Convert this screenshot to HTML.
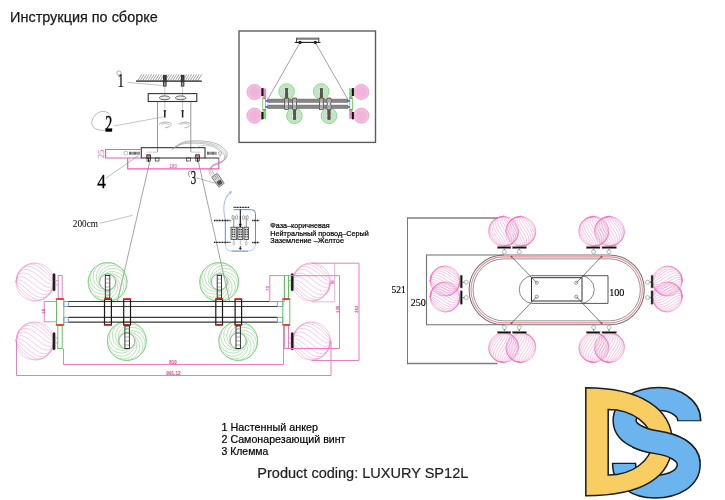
<!DOCTYPE html>
<html><head><meta charset="utf-8"><title>Инструкция по сборке</title>
<style>
html,body{margin:0;padding:0;background:#fff;}
body{width:725px;height:500px;overflow:hidden;font-family:"Liberation Sans",sans-serif;}
svg{display:block;}
</style></head><body>
<svg width="725" height="500" viewBox="0 0 725 500">
<defs><filter id="gs" x="-5%" y="-20%" width="110%" height="140%" color-interpolation-filters="sRGB"><feColorMatrix type="saturate" values="0"/></filter></defs>
<rect width="725" height="500" fill="#fff"/>
<text x="10.1" y="22.4" font-family="Liberation Sans, sans-serif" font-size="14.5" fill="#1a1a1a" textLength="147.6" lengthAdjust="spacingAndGlyphs" stroke="#1a1a1a" stroke-width="0.25" filter="url(#gs)">Инструкция по сборке</text>
<text x="221.5" y="430.7" font-family="Liberation Sans, sans-serif" font-size="10.6" fill="#000" textLength="96.5" lengthAdjust="spacingAndGlyphs" stroke="#000" stroke-width="0.2" filter="url(#gs)">1 Настенный анкер</text>
<text x="221.5" y="443" font-family="Liberation Sans, sans-serif" font-size="10.6" fill="#000" textLength="124" lengthAdjust="spacingAndGlyphs" stroke="#000" stroke-width="0.2" filter="url(#gs)">2 Самонарезающий винт</text>
<text x="221.5" y="455" font-family="Liberation Sans, sans-serif" font-size="10.6" fill="#000" textLength="46.8" lengthAdjust="spacingAndGlyphs" stroke="#000" stroke-width="0.2" filter="url(#gs)">3 Клемма</text>
<text x="257.3" y="478.2" font-family="Liberation Sans, sans-serif" font-size="14.5" fill="#222" textLength="211" lengthAdjust="spacingAndGlyphs" stroke="#222" stroke-width="0.2" filter="url(#gs)">Product coding: LUXURY SP12L</text>
<text x="270.3" y="227.8" font-family="Liberation Sans, sans-serif" font-size="7.6" fill="#000" textLength="59.3" lengthAdjust="spacingAndGlyphs" stroke="#000" stroke-width="0.22" filter="url(#gs)">Фаза–коричневая</text>
<text x="270.3" y="235.5" font-family="Liberation Sans, sans-serif" font-size="7.6" fill="#000" textLength="98.5" lengthAdjust="spacingAndGlyphs" stroke="#000" stroke-width="0.22" filter="url(#gs)">Нейтральный провод–Серый</text>
<text x="270.3" y="243.3" font-family="Liberation Sans, sans-serif" font-size="7.6" fill="#000" textLength="73.7" lengthAdjust="spacingAndGlyphs" stroke="#000" stroke-width="0.22" filter="url(#gs)">Заземление –Желтое</text>
<line x1="150.6" y1="158" x2="117.5" y2="301" stroke="#666" stroke-width="0.6" />
<line x1="197.6" y1="158" x2="229.5" y2="301" stroke="#666" stroke-width="0.6" />
<g stroke="#ec94cc" stroke-width="0.5" fill="none" opacity="1"><circle cx="35" cy="282" r="19"/><path d="M16 282 L17.58 275.63 L19.17 272.83 L20.75 270.65 L22.33 268.83 L23.92 267.3 L25.5 266.03 L27.08 265 L28.67 264.19 L30.25 263.62 L31.83 263.27 L33.42 263.14 L35 263.23 L36.58 263.54 L38.17 264.05 L39.75 264.76 L41.33 265.67 L42.92 266.76 L44.5 268.03 L46.08 269.47 L47.67 271.08 L49.25 272.87 L50.83 274.86 L52.42 277.22 L54 282 M16 282 L17.58 274.67 L19.17 271.7 L20.75 269.54 L22.33 267.87 L23.92 266.57 L25.5 265.59 L27.08 264.89 L28.67 264.46 L30.25 264.28 L31.83 264.33 L33.42 264.59 L35 265.07 L36.58 265.74 L38.17 266.59 L39.75 267.59 L41.33 268.75 L42.92 270.02 L44.5 271.41 L46.08 272.87 L47.67 274.4 L49.25 275.98 L50.83 277.59 L52.42 279.28 L54 282 M16 282 L17.58 274.42 L19.17 271.57 L20.75 269.65 L22.33 268.29 L23.92 267.34 L25.5 266.75 L27.08 266.46 L28.67 266.44 L30.25 266.67 L31.83 267.11 L33.42 267.75 L35 268.56 L36.58 269.53 L38.17 270.63 L39.75 271.84 L41.33 273.12 L42.92 274.46 L44.5 275.81 L46.08 277.16 L47.67 278.47 L49.25 279.68 L50.83 280.76 L52.42 281.6 L54 282 M16 282 L17.58 274.91 L19.17 272.47 L20.75 270.97 L22.33 270.05 L23.92 269.56 L25.5 269.41 L27.08 269.55 L28.67 269.95 L30.25 270.56 L31.83 271.35 L33.42 272.3 L35 273.37 L36.58 274.55 L38.17 275.79 L39.75 277.07 L41.33 278.36 L42.92 279.63 L44.5 280.83 L46.08 281.93 L47.67 282.88 L49.25 283.61 L50.83 284.04 L52.42 283.97 L54 282 M16 282 L17.58 276.1 L19.17 274.29 L20.75 273.37 L22.33 272.98 L23.92 272.99 L25.5 273.3 L27.08 273.86 L28.67 274.63 L30.25 275.57 L31.83 276.64 L33.42 277.8 L35 279.03 L36.58 280.29 L38.17 281.56 L39.75 282.79 L41.33 283.96 L42.92 285.03 L44.5 285.96 L46.08 286.7 L47.67 287.2 L49.25 287.39 L50.83 287.12 L52.42 286.14 L54 282 M16 282 L17.58 277.86 L19.17 276.88 L20.75 276.61 L22.33 276.8 L23.92 277.3 L25.5 278.04 L27.08 278.97 L28.67 280.04 L30.25 281.21 L31.83 282.44 L33.42 283.71 L35 284.97 L36.58 286.2 L38.17 287.36 L39.75 288.43 L41.33 289.37 L42.92 290.14 L44.5 290.7 L46.08 291.01 L47.67 291.02 L49.25 290.63 L50.83 289.71 L52.42 287.9 L54 282 M16 282 L17.58 280.03 L19.17 279.96 L20.75 280.39 L22.33 281.12 L23.92 282.07 L25.5 283.17 L27.08 284.37 L28.67 285.64 L30.25 286.93 L31.83 288.21 L33.42 289.45 L35 290.63 L36.58 291.7 L38.17 292.65 L39.75 293.44 L41.33 294.05 L42.92 294.45 L44.5 294.59 L46.08 294.44 L47.67 293.95 L49.25 293.03 L50.83 291.53 L52.42 289.09 L54 282 M16 282 L17.58 282.4 L19.17 283.24 L20.75 284.32 L22.33 285.53 L23.92 286.84 L25.5 288.19 L27.08 289.54 L28.67 290.88 L30.25 292.16 L31.83 293.37 L33.42 294.47 L35 295.44 L36.58 296.25 L38.17 296.89 L39.75 297.33 L41.33 297.56 L42.92 297.54 L44.5 297.25 L46.08 296.66 L47.67 295.71 L49.25 294.35 L50.83 292.43 L52.42 289.58 L54 282 M16 282 L17.58 284.72 L19.17 286.41 L20.75 288.02 L22.33 289.6 L23.92 291.13 L25.5 292.59 L27.08 293.98 L28.67 295.25 L30.25 296.41 L31.83 297.41 L33.42 298.26 L35 298.93 L36.58 299.41 L38.17 299.67 L39.75 299.72 L41.33 299.54 L42.92 299.11 L44.5 298.41 L46.08 297.43 L47.67 296.13 L49.25 294.46 L50.83 292.3 L52.42 289.33 L54 282 M16 282 L17.58 286.78 L19.17 289.14 L20.75 291.13 L22.33 292.92 L23.92 294.53 L25.5 295.97 L27.08 297.24 L28.67 298.33 L30.25 299.24 L31.83 299.95 L33.42 300.46 L35 300.77 L36.58 300.86 L38.17 300.73 L39.75 300.38 L41.33 299.81 L42.92 299 L44.5 297.97 L46.08 296.7 L47.67 295.17 L49.25 293.35 L50.83 291.17 L52.42 288.37 L54 282"/></g>
<g stroke="#ec94cc" stroke-width="0.5" fill="none" opacity="1"><circle cx="35" cy="341" r="19"/><path d="M16 341 L17.58 334.63 L19.17 331.83 L20.75 329.65 L22.33 327.83 L23.92 326.3 L25.5 325.03 L27.08 324 L28.67 323.19 L30.25 322.62 L31.83 322.27 L33.42 322.14 L35 322.23 L36.58 322.54 L38.17 323.05 L39.75 323.76 L41.33 324.67 L42.92 325.76 L44.5 327.03 L46.08 328.47 L47.67 330.08 L49.25 331.87 L50.83 333.86 L52.42 336.22 L54 341 M16 341 L17.58 333.67 L19.17 330.7 L20.75 328.54 L22.33 326.87 L23.92 325.57 L25.5 324.59 L27.08 323.89 L28.67 323.46 L30.25 323.28 L31.83 323.33 L33.42 323.59 L35 324.07 L36.58 324.74 L38.17 325.59 L39.75 326.59 L41.33 327.75 L42.92 329.02 L44.5 330.41 L46.08 331.87 L47.67 333.4 L49.25 334.98 L50.83 336.59 L52.42 338.28 L54 341 M16 341 L17.58 333.42 L19.17 330.57 L20.75 328.65 L22.33 327.29 L23.92 326.34 L25.5 325.75 L27.08 325.46 L28.67 325.44 L30.25 325.67 L31.83 326.11 L33.42 326.75 L35 327.56 L36.58 328.53 L38.17 329.63 L39.75 330.84 L41.33 332.12 L42.92 333.46 L44.5 334.81 L46.08 336.16 L47.67 337.47 L49.25 338.68 L50.83 339.76 L52.42 340.6 L54 341 M16 341 L17.58 333.91 L19.17 331.47 L20.75 329.97 L22.33 329.05 L23.92 328.56 L25.5 328.41 L27.08 328.55 L28.67 328.95 L30.25 329.56 L31.83 330.35 L33.42 331.3 L35 332.37 L36.58 333.55 L38.17 334.79 L39.75 336.07 L41.33 337.36 L42.92 338.63 L44.5 339.83 L46.08 340.93 L47.67 341.88 L49.25 342.61 L50.83 343.04 L52.42 342.97 L54 341 M16 341 L17.58 335.1 L19.17 333.29 L20.75 332.37 L22.33 331.98 L23.92 331.99 L25.5 332.3 L27.08 332.86 L28.67 333.63 L30.25 334.57 L31.83 335.64 L33.42 336.8 L35 338.03 L36.58 339.29 L38.17 340.56 L39.75 341.79 L41.33 342.96 L42.92 344.03 L44.5 344.96 L46.08 345.7 L47.67 346.2 L49.25 346.39 L50.83 346.12 L52.42 345.14 L54 341 M16 341 L17.58 336.86 L19.17 335.88 L20.75 335.61 L22.33 335.8 L23.92 336.3 L25.5 337.04 L27.08 337.97 L28.67 339.04 L30.25 340.21 L31.83 341.44 L33.42 342.71 L35 343.97 L36.58 345.2 L38.17 346.36 L39.75 347.43 L41.33 348.37 L42.92 349.14 L44.5 349.7 L46.08 350.01 L47.67 350.02 L49.25 349.63 L50.83 348.71 L52.42 346.9 L54 341 M16 341 L17.58 339.03 L19.17 338.96 L20.75 339.39 L22.33 340.12 L23.92 341.07 L25.5 342.17 L27.08 343.37 L28.67 344.64 L30.25 345.93 L31.83 347.21 L33.42 348.45 L35 349.63 L36.58 350.7 L38.17 351.65 L39.75 352.44 L41.33 353.05 L42.92 353.45 L44.5 353.59 L46.08 353.44 L47.67 352.95 L49.25 352.03 L50.83 350.53 L52.42 348.09 L54 341 M16 341 L17.58 341.4 L19.17 342.24 L20.75 343.32 L22.33 344.53 L23.92 345.84 L25.5 347.19 L27.08 348.54 L28.67 349.88 L30.25 351.16 L31.83 352.37 L33.42 353.47 L35 354.44 L36.58 355.25 L38.17 355.89 L39.75 356.33 L41.33 356.56 L42.92 356.54 L44.5 356.25 L46.08 355.66 L47.67 354.71 L49.25 353.35 L50.83 351.43 L52.42 348.58 L54 341 M16 341 L17.58 343.72 L19.17 345.41 L20.75 347.02 L22.33 348.6 L23.92 350.13 L25.5 351.59 L27.08 352.98 L28.67 354.25 L30.25 355.41 L31.83 356.41 L33.42 357.26 L35 357.93 L36.58 358.41 L38.17 358.67 L39.75 358.72 L41.33 358.54 L42.92 358.11 L44.5 357.41 L46.08 356.43 L47.67 355.13 L49.25 353.46 L50.83 351.3 L52.42 348.33 L54 341 M16 341 L17.58 345.78 L19.17 348.14 L20.75 350.13 L22.33 351.92 L23.92 353.53 L25.5 354.97 L27.08 356.24 L28.67 357.33 L30.25 358.24 L31.83 358.95 L33.42 359.46 L35 359.77 L36.58 359.86 L38.17 359.73 L39.75 359.38 L41.33 358.81 L42.92 358 L44.5 356.97 L46.08 355.7 L47.67 354.17 L49.25 352.35 L50.83 350.17 L52.42 347.37 L54 341"/></g>
<g stroke="#ec94cc" stroke-width="0.5" fill="none" opacity="1"><circle cx="311.5" cy="282" r="19"/><path d="M292.5 282 L294.08 275.63 L295.67 272.83 L297.25 270.65 L298.83 268.83 L300.42 267.3 L302 266.03 L303.58 265 L305.17 264.19 L306.75 263.62 L308.33 263.27 L309.92 263.14 L311.5 263.23 L313.08 263.54 L314.67 264.05 L316.25 264.76 L317.83 265.67 L319.42 266.76 L321 268.03 L322.58 269.47 L324.17 271.08 L325.75 272.87 L327.33 274.86 L328.92 277.22 L330.5 282 M292.5 282 L294.08 274.67 L295.67 271.7 L297.25 269.54 L298.83 267.87 L300.42 266.57 L302 265.59 L303.58 264.89 L305.17 264.46 L306.75 264.28 L308.33 264.33 L309.92 264.59 L311.5 265.07 L313.08 265.74 L314.67 266.59 L316.25 267.59 L317.83 268.75 L319.42 270.02 L321 271.41 L322.58 272.87 L324.17 274.4 L325.75 275.98 L327.33 277.59 L328.92 279.28 L330.5 282 M292.5 282 L294.08 274.42 L295.67 271.57 L297.25 269.65 L298.83 268.29 L300.42 267.34 L302 266.75 L303.58 266.46 L305.17 266.44 L306.75 266.67 L308.33 267.11 L309.92 267.75 L311.5 268.56 L313.08 269.53 L314.67 270.63 L316.25 271.84 L317.83 273.12 L319.42 274.46 L321 275.81 L322.58 277.16 L324.17 278.47 L325.75 279.68 L327.33 280.76 L328.92 281.6 L330.5 282 M292.5 282 L294.08 274.91 L295.67 272.47 L297.25 270.97 L298.83 270.05 L300.42 269.56 L302 269.41 L303.58 269.55 L305.17 269.95 L306.75 270.56 L308.33 271.35 L309.92 272.3 L311.5 273.37 L313.08 274.55 L314.67 275.79 L316.25 277.07 L317.83 278.36 L319.42 279.63 L321 280.83 L322.58 281.93 L324.17 282.88 L325.75 283.61 L327.33 284.04 L328.92 283.97 L330.5 282 M292.5 282 L294.08 276.1 L295.67 274.29 L297.25 273.37 L298.83 272.98 L300.42 272.99 L302 273.3 L303.58 273.86 L305.17 274.63 L306.75 275.57 L308.33 276.64 L309.92 277.8 L311.5 279.03 L313.08 280.29 L314.67 281.56 L316.25 282.79 L317.83 283.96 L319.42 285.03 L321 285.96 L322.58 286.7 L324.17 287.2 L325.75 287.39 L327.33 287.12 L328.92 286.14 L330.5 282 M292.5 282 L294.08 277.86 L295.67 276.88 L297.25 276.61 L298.83 276.8 L300.42 277.3 L302 278.04 L303.58 278.97 L305.17 280.04 L306.75 281.21 L308.33 282.44 L309.92 283.71 L311.5 284.97 L313.08 286.2 L314.67 287.36 L316.25 288.43 L317.83 289.37 L319.42 290.14 L321 290.7 L322.58 291.01 L324.17 291.02 L325.75 290.63 L327.33 289.71 L328.92 287.9 L330.5 282 M292.5 282 L294.08 280.03 L295.67 279.96 L297.25 280.39 L298.83 281.12 L300.42 282.07 L302 283.17 L303.58 284.37 L305.17 285.64 L306.75 286.93 L308.33 288.21 L309.92 289.45 L311.5 290.63 L313.08 291.7 L314.67 292.65 L316.25 293.44 L317.83 294.05 L319.42 294.45 L321 294.59 L322.58 294.44 L324.17 293.95 L325.75 293.03 L327.33 291.53 L328.92 289.09 L330.5 282 M292.5 282 L294.08 282.4 L295.67 283.24 L297.25 284.32 L298.83 285.53 L300.42 286.84 L302 288.19 L303.58 289.54 L305.17 290.88 L306.75 292.16 L308.33 293.37 L309.92 294.47 L311.5 295.44 L313.08 296.25 L314.67 296.89 L316.25 297.33 L317.83 297.56 L319.42 297.54 L321 297.25 L322.58 296.66 L324.17 295.71 L325.75 294.35 L327.33 292.43 L328.92 289.58 L330.5 282 M292.5 282 L294.08 284.72 L295.67 286.41 L297.25 288.02 L298.83 289.6 L300.42 291.13 L302 292.59 L303.58 293.98 L305.17 295.25 L306.75 296.41 L308.33 297.41 L309.92 298.26 L311.5 298.93 L313.08 299.41 L314.67 299.67 L316.25 299.72 L317.83 299.54 L319.42 299.11 L321 298.41 L322.58 297.43 L324.17 296.13 L325.75 294.46 L327.33 292.3 L328.92 289.33 L330.5 282 M292.5 282 L294.08 286.78 L295.67 289.14 L297.25 291.13 L298.83 292.92 L300.42 294.53 L302 295.97 L303.58 297.24 L305.17 298.33 L306.75 299.24 L308.33 299.95 L309.92 300.46 L311.5 300.77 L313.08 300.86 L314.67 300.73 L316.25 300.38 L317.83 299.81 L319.42 299 L321 297.97 L322.58 296.7 L324.17 295.17 L325.75 293.35 L327.33 291.17 L328.92 288.37 L330.5 282"/></g>
<g stroke="#ec94cc" stroke-width="0.5" fill="none" opacity="1"><circle cx="311.5" cy="341" r="19"/><path d="M292.5 341 L294.08 334.63 L295.67 331.83 L297.25 329.65 L298.83 327.83 L300.42 326.3 L302 325.03 L303.58 324 L305.17 323.19 L306.75 322.62 L308.33 322.27 L309.92 322.14 L311.5 322.23 L313.08 322.54 L314.67 323.05 L316.25 323.76 L317.83 324.67 L319.42 325.76 L321 327.03 L322.58 328.47 L324.17 330.08 L325.75 331.87 L327.33 333.86 L328.92 336.22 L330.5 341 M292.5 341 L294.08 333.67 L295.67 330.7 L297.25 328.54 L298.83 326.87 L300.42 325.57 L302 324.59 L303.58 323.89 L305.17 323.46 L306.75 323.28 L308.33 323.33 L309.92 323.59 L311.5 324.07 L313.08 324.74 L314.67 325.59 L316.25 326.59 L317.83 327.75 L319.42 329.02 L321 330.41 L322.58 331.87 L324.17 333.4 L325.75 334.98 L327.33 336.59 L328.92 338.28 L330.5 341 M292.5 341 L294.08 333.42 L295.67 330.57 L297.25 328.65 L298.83 327.29 L300.42 326.34 L302 325.75 L303.58 325.46 L305.17 325.44 L306.75 325.67 L308.33 326.11 L309.92 326.75 L311.5 327.56 L313.08 328.53 L314.67 329.63 L316.25 330.84 L317.83 332.12 L319.42 333.46 L321 334.81 L322.58 336.16 L324.17 337.47 L325.75 338.68 L327.33 339.76 L328.92 340.6 L330.5 341 M292.5 341 L294.08 333.91 L295.67 331.47 L297.25 329.97 L298.83 329.05 L300.42 328.56 L302 328.41 L303.58 328.55 L305.17 328.95 L306.75 329.56 L308.33 330.35 L309.92 331.3 L311.5 332.37 L313.08 333.55 L314.67 334.79 L316.25 336.07 L317.83 337.36 L319.42 338.63 L321 339.83 L322.58 340.93 L324.17 341.88 L325.75 342.61 L327.33 343.04 L328.92 342.97 L330.5 341 M292.5 341 L294.08 335.1 L295.67 333.29 L297.25 332.37 L298.83 331.98 L300.42 331.99 L302 332.3 L303.58 332.86 L305.17 333.63 L306.75 334.57 L308.33 335.64 L309.92 336.8 L311.5 338.03 L313.08 339.29 L314.67 340.56 L316.25 341.79 L317.83 342.96 L319.42 344.03 L321 344.96 L322.58 345.7 L324.17 346.2 L325.75 346.39 L327.33 346.12 L328.92 345.14 L330.5 341 M292.5 341 L294.08 336.86 L295.67 335.88 L297.25 335.61 L298.83 335.8 L300.42 336.3 L302 337.04 L303.58 337.97 L305.17 339.04 L306.75 340.21 L308.33 341.44 L309.92 342.71 L311.5 343.97 L313.08 345.2 L314.67 346.36 L316.25 347.43 L317.83 348.37 L319.42 349.14 L321 349.7 L322.58 350.01 L324.17 350.02 L325.75 349.63 L327.33 348.71 L328.92 346.9 L330.5 341 M292.5 341 L294.08 339.03 L295.67 338.96 L297.25 339.39 L298.83 340.12 L300.42 341.07 L302 342.17 L303.58 343.37 L305.17 344.64 L306.75 345.93 L308.33 347.21 L309.92 348.45 L311.5 349.63 L313.08 350.7 L314.67 351.65 L316.25 352.44 L317.83 353.05 L319.42 353.45 L321 353.59 L322.58 353.44 L324.17 352.95 L325.75 352.03 L327.33 350.53 L328.92 348.09 L330.5 341 M292.5 341 L294.08 341.4 L295.67 342.24 L297.25 343.32 L298.83 344.53 L300.42 345.84 L302 347.19 L303.58 348.54 L305.17 349.88 L306.75 351.16 L308.33 352.37 L309.92 353.47 L311.5 354.44 L313.08 355.25 L314.67 355.89 L316.25 356.33 L317.83 356.56 L319.42 356.54 L321 356.25 L322.58 355.66 L324.17 354.71 L325.75 353.35 L327.33 351.43 L328.92 348.58 L330.5 341 M292.5 341 L294.08 343.72 L295.67 345.41 L297.25 347.02 L298.83 348.6 L300.42 350.13 L302 351.59 L303.58 352.98 L305.17 354.25 L306.75 355.41 L308.33 356.41 L309.92 357.26 L311.5 357.93 L313.08 358.41 L314.67 358.67 L316.25 358.72 L317.83 358.54 L319.42 358.11 L321 357.41 L322.58 356.43 L324.17 355.13 L325.75 353.46 L327.33 351.3 L328.92 348.33 L330.5 341 M292.5 341 L294.08 345.78 L295.67 348.14 L297.25 350.13 L298.83 351.92 L300.42 353.53 L302 354.97 L303.58 356.24 L305.17 357.33 L306.75 358.24 L308.33 358.95 L309.92 359.46 L311.5 359.77 L313.08 359.86 L314.67 359.73 L316.25 359.38 L317.83 358.81 L319.42 358 L321 356.97 L322.58 355.7 L324.17 354.17 L325.75 352.35 L327.33 350.17 L328.92 347.37 L330.5 341"/></g>
<g stroke="#6fcb6f" stroke-width="0.5" fill="none"><circle cx="107.6" cy="282" r="19.5" stroke-width="0.8"/><path d="M99.6 282A13.75 13.75 0 0 1 127.1 282 M100.87 277.67A13.75 13.75 0 0 1 124 292.54 M104.28 274.72A13.75 13.75 0 0 1 115.7 299.74 M108.74 274.08A13.75 13.75 0 0 1 104.82 301.3 M112.84 275.95A13.75 13.75 0 0 1 94.83 296.74 M115.28 279.75A13.75 13.75 0 0 1 88.89 287.49 M115.28 284.25A13.75 13.75 0 0 1 88.89 276.51 M112.84 288.05A13.75 13.75 0 0 1 94.83 267.26 M108.74 289.92A13.75 13.75 0 0 1 104.82 262.7 M104.28 289.28A13.75 13.75 0 0 1 115.7 264.26 M100.87 286.33A13.75 13.75 0 0 1 124 271.46"/></g>
<circle cx="107.6" cy="282" r="8" stroke="#999" stroke-width="0.7" fill="none"/>
<g stroke="#6fcb6f" stroke-width="0.5" fill="none"><circle cx="219.2" cy="282" r="19.5" stroke-width="0.8"/><path d="M211.2 282A13.75 13.75 0 0 1 238.7 282 M212.47 277.67A13.75 13.75 0 0 1 235.6 292.54 M215.88 274.72A13.75 13.75 0 0 1 227.3 299.74 M220.34 274.08A13.75 13.75 0 0 1 216.42 301.3 M224.44 275.95A13.75 13.75 0 0 1 206.43 296.74 M226.88 279.75A13.75 13.75 0 0 1 200.49 287.49 M226.88 284.25A13.75 13.75 0 0 1 200.49 276.51 M224.44 288.05A13.75 13.75 0 0 1 206.43 267.26 M220.34 289.92A13.75 13.75 0 0 1 216.42 262.7 M215.88 289.28A13.75 13.75 0 0 1 227.3 264.26 M212.47 286.33A13.75 13.75 0 0 1 235.6 271.46"/></g>
<circle cx="219.2" cy="282" r="8" stroke="#999" stroke-width="0.7" fill="none"/>
<g stroke="#6fcb6f" stroke-width="0.5" fill="none"><circle cx="126.8" cy="341" r="19.5" stroke-width="0.8"/><path d="M118.8 341A13.75 13.75 0 0 1 146.3 341 M120.07 336.67A13.75 13.75 0 0 1 143.2 351.54 M123.48 333.72A13.75 13.75 0 0 1 134.9 358.74 M127.94 333.08A13.75 13.75 0 0 1 124.02 360.3 M132.04 334.95A13.75 13.75 0 0 1 114.03 355.74 M134.48 338.75A13.75 13.75 0 0 1 108.09 346.49 M134.48 343.25A13.75 13.75 0 0 1 108.09 335.51 M132.04 347.05A13.75 13.75 0 0 1 114.03 326.26 M127.94 348.92A13.75 13.75 0 0 1 124.02 321.7 M123.48 348.28A13.75 13.75 0 0 1 134.9 323.26 M120.07 345.33A13.75 13.75 0 0 1 143.2 330.46"/></g>
<circle cx="126.8" cy="341" r="8" stroke="#999" stroke-width="0.7" fill="none"/>
<g stroke="#6fcb6f" stroke-width="0.5" fill="none"><circle cx="238.2" cy="341" r="19.5" stroke-width="0.8"/><path d="M230.2 341A13.75 13.75 0 0 1 257.7 341 M231.47 336.67A13.75 13.75 0 0 1 254.6 351.54 M234.88 333.72A13.75 13.75 0 0 1 246.3 358.74 M239.34 333.08A13.75 13.75 0 0 1 235.42 360.3 M243.44 334.95A13.75 13.75 0 0 1 225.43 355.74 M245.88 338.75A13.75 13.75 0 0 1 219.49 346.49 M245.88 343.25A13.75 13.75 0 0 1 219.49 335.51 M243.44 347.05A13.75 13.75 0 0 1 225.43 326.26 M239.34 348.92A13.75 13.75 0 0 1 235.42 321.7 M234.88 348.28A13.75 13.75 0 0 1 246.3 323.26 M231.47 345.33A13.75 13.75 0 0 1 254.6 330.46"/></g>
<circle cx="238.2" cy="341" r="8" stroke="#999" stroke-width="0.7" fill="none"/>
<line x1="68.3" y1="301.5" x2="277.3" y2="301.5" stroke="#3a3a3a" stroke-width="1.2" />
<line x1="68.3" y1="306.5" x2="277.3" y2="306.5" stroke="#3a3a3a" stroke-width="1.2" />
<line x1="68.3" y1="317.3" x2="277.3" y2="317.3" stroke="#3a3a3a" stroke-width="1.2" />
<line x1="68.3" y1="322.2" x2="277.3" y2="322.2" stroke="#3a3a3a" stroke-width="1.2" />
<rect x="63.8" y="301.5" width="4.5" height="5" stroke="#6680dd" stroke-width="0.8" fill="none" />
<rect x="63.8" y="317.3" width="4.5" height="4.9" stroke="#6680dd" stroke-width="0.8" fill="none" />
<rect x="277.3" y="301.5" width="5.5" height="5" stroke="#6680dd" stroke-width="0.8" fill="none" />
<rect x="277.3" y="317.3" width="5.5" height="4.9" stroke="#6680dd" stroke-width="0.8" fill="none" />
<rect x="104.5" y="299.4" width="6.9" height="25.4" stroke="#1a1a1a" stroke-width="1.2" fill="none" />
<line x1="104" y1="298.9" x2="111.9" y2="298.9" stroke="#f22" stroke-width="1.5" />
<line x1="104" y1="325.2" x2="111.9" y2="325.2" stroke="#f22" stroke-width="1.5" />
<rect x="123.7" y="299.4" width="6.8" height="25.4" stroke="#1a1a1a" stroke-width="1.2" fill="none" />
<line x1="123.2" y1="298.9" x2="131" y2="298.9" stroke="#f22" stroke-width="1.5" />
<line x1="123.2" y1="325.2" x2="131" y2="325.2" stroke="#f22" stroke-width="1.5" />
<rect x="215.8" y="299.4" width="6.7" height="25.4" stroke="#1a1a1a" stroke-width="1.2" fill="none" />
<line x1="215.3" y1="298.9" x2="223" y2="298.9" stroke="#f22" stroke-width="1.5" />
<line x1="215.3" y1="325.2" x2="223" y2="325.2" stroke="#f22" stroke-width="1.5" />
<rect x="235.1" y="299.4" width="6.5" height="25.4" stroke="#1a1a1a" stroke-width="1.2" fill="none" />
<line x1="234.6" y1="298.9" x2="242.1" y2="298.9" stroke="#f22" stroke-width="1.5" />
<line x1="234.6" y1="325.2" x2="242.1" y2="325.2" stroke="#f22" stroke-width="1.5" />
<rect x="105.3" y="275.4" width="4.5" height="22.6" stroke="#222" stroke-width="0.9" fill="none" />
<line x1="105.3" y1="279" x2="109.8" y2="279" stroke="#555" stroke-width="0.5" />
<line x1="105.3" y1="283" x2="109.8" y2="283" stroke="#555" stroke-width="0.5" />
<line x1="105.3" y1="287" x2="109.8" y2="287" stroke="#555" stroke-width="0.5" />
<line x1="105.3" y1="291" x2="109.8" y2="291" stroke="#555" stroke-width="0.5" />
<line x1="105.3" y1="295" x2="109.8" y2="295" stroke="#555" stroke-width="0.5" />
<rect x="217.2" y="275.4" width="4.3" height="22.6" stroke="#222" stroke-width="0.9" fill="none" />
<line x1="217.2" y1="279" x2="221.5" y2="279" stroke="#555" stroke-width="0.5" />
<line x1="217.2" y1="283" x2="221.5" y2="283" stroke="#555" stroke-width="0.5" />
<line x1="217.2" y1="287" x2="221.5" y2="287" stroke="#555" stroke-width="0.5" />
<line x1="217.2" y1="291" x2="221.5" y2="291" stroke="#555" stroke-width="0.5" />
<line x1="217.2" y1="295" x2="221.5" y2="295" stroke="#555" stroke-width="0.5" />
<rect x="124.9" y="326" width="4.5" height="22.5" stroke="#222" stroke-width="0.9" fill="none" />
<line x1="124.9" y1="329" x2="129.4" y2="329" stroke="#555" stroke-width="0.5" />
<line x1="124.9" y1="333" x2="129.4" y2="333" stroke="#555" stroke-width="0.5" />
<line x1="124.9" y1="337" x2="129.4" y2="337" stroke="#555" stroke-width="0.5" />
<line x1="124.9" y1="341" x2="129.4" y2="341" stroke="#555" stroke-width="0.5" />
<line x1="124.9" y1="345" x2="129.4" y2="345" stroke="#555" stroke-width="0.5" />
<rect x="236" y="326" width="4.4" height="22.5" stroke="#222" stroke-width="0.9" fill="none" />
<line x1="236" y1="329" x2="240.4" y2="329" stroke="#555" stroke-width="0.5" />
<line x1="236" y1="333" x2="240.4" y2="333" stroke="#555" stroke-width="0.5" />
<line x1="236" y1="337" x2="240.4" y2="337" stroke="#555" stroke-width="0.5" />
<line x1="236" y1="341" x2="240.4" y2="341" stroke="#555" stroke-width="0.5" />
<line x1="236" y1="345" x2="240.4" y2="345" stroke="#555" stroke-width="0.5" />
<rect x="44.2" y="301.5" width="12.3" height="20.3" stroke="#e57fbe" stroke-width="1" fill="none" />
<rect x="58.2" y="275.5" width="4" height="23" stroke="#e57fbe" stroke-width="1" fill="none" />
<rect x="57.8" y="325.6" width="4.4" height="22.9" stroke="#5fc45f" stroke-width="1" fill="none" />
<rect x="56.5" y="299.5" width="7.3" height="25.1" stroke="#5fc45f" stroke-width="1" fill="none" />
<line x1="55.8" y1="299" x2="64.1" y2="299" stroke="#f22" stroke-width="1.5" />
<line x1="55.8" y1="325" x2="64.1" y2="325" stroke="#f22" stroke-width="1.5" />
<rect x="269.8" y="275.6" width="14.5" height="26" stroke="#e57fbe" stroke-width="1" fill="none" />
<rect x="284.6" y="275.6" width="3.9" height="22.9" stroke="#5fc45f" stroke-width="1" fill="none" />
<rect x="284.6" y="325.6" width="3.9" height="22.9" stroke="#e57fbe" stroke-width="1" fill="none" />
<rect x="282.8" y="299.5" width="7" height="25.1" stroke="#5fc45f" stroke-width="1" fill="none" />
<line x1="282.4" y1="299" x2="290.2" y2="299" stroke="#f22" stroke-width="1.5" />
<line x1="282.4" y1="325" x2="290.2" y2="325" stroke="#f22" stroke-width="1.5" />
<rect x="52.8" y="273.4" width="2.4" height="17.7" stroke="#777" stroke-width="0.5" fill="#111" rx="1.1"/>
<rect x="52.8" y="332.4" width="2.4" height="17.6" stroke="#777" stroke-width="0.5" fill="#111" rx="1.1"/>
<rect x="291" y="273.4" width="2.4" height="17.7" stroke="#777" stroke-width="0.5" fill="#111" rx="1.1"/>
<rect x="291" y="332.4" width="2.4" height="17.6" stroke="#777" stroke-width="0.5" fill="#111" rx="1.1"/>
<line x1="54.8" y1="280.5" x2="58.2" y2="280.5" stroke="#e57fbe" stroke-width="0.7" />
<line x1="54.8" y1="285" x2="58.2" y2="285" stroke="#e57fbe" stroke-width="0.7" />
<line x1="54.8" y1="338" x2="58.2" y2="338" stroke="#5fc45f" stroke-width="0.7" />
<line x1="54.8" y1="343" x2="58.2" y2="343" stroke="#5fc45f" stroke-width="0.7" />
<line x1="288.5" y1="280.5" x2="291" y2="280.5" stroke="#5fc45f" stroke-width="0.7" />
<line x1="288.5" y1="285" x2="291" y2="285" stroke="#5fc45f" stroke-width="0.7" />
<line x1="288.5" y1="338" x2="291" y2="338" stroke="#e57fbe" stroke-width="0.7" />
<line x1="288.5" y1="343" x2="291" y2="343" stroke="#e57fbe" stroke-width="0.7" />
<path d="M63.5 348.5V364.5H283.5V325" stroke="#e57fbe" stroke-width="1" fill="none" />
<path d="M16.5 341V375.5H331V341" stroke="#e57fbe" stroke-width="1" fill="none" />
<path d="M311.5 263.2H359V360.5H311.5" stroke="#e57fbe" stroke-width="1" fill="none" />
<path d="M288.5 275.7H339.5V348.5H288.5" stroke="#e57fbe" stroke-width="1" fill="none" />
<path d="M311.5 301.8H334.7V263.2" stroke="#e57fbe" stroke-width="0.6" fill="none" />
<text x="169.3" y="364.3" font-family="Liberation Sans, sans-serif" font-size="4.6" fill="#d23c9c" font-weight="bold" textLength="7.6" lengthAdjust="spacingAndGlyphs">810</text>
<text x="166.3" y="375.3" font-family="Liberation Sans, sans-serif" font-size="4.6" fill="#d23c9c" font-weight="bold" textLength="14.3" lengthAdjust="spacingAndGlyphs">991.12</text>
<text transform="translate(45,314) rotate(-90)" font-family="Liberation Sans, sans-serif" font-size="4.4" font-weight="bold" fill="#d23c9c">18</text>
<text transform="translate(269,291) rotate(-90)" font-family="Liberation Sans, sans-serif" font-size="4.4" font-weight="bold" fill="#d23c9c">73</text>
<text transform="translate(338.5,313) rotate(-90)" font-family="Liberation Sans, sans-serif" font-size="4.4" font-weight="bold" fill="#d23c9c">136</text>
<text transform="translate(358,313) rotate(-90)" font-family="Liberation Sans, sans-serif" font-size="4.4" font-weight="bold" fill="#d23c9c">362</text>
<text transform="translate(334,284) rotate(-90)" font-family="Liberation Sans, sans-serif" font-size="3.2" font-weight="bold" fill="#d23c9c">90</text>
<path d="M497.6 218H407.3M407.3 363.6H497.6" stroke="#808080" stroke-width="1.5" fill="none" />
<line x1="407.5" y1="217.3" x2="407.5" y2="364.3" stroke="#777" stroke-width="1" />
<path d="M504 255H426.5V324.7H504" stroke="#707070" stroke-width="1.1" fill="none" />
<path d="M582 275.7H608V303.4H582" stroke="#555" stroke-width="1" fill="none" />
<text x="391.6" y="292.6" font-family="Liberation Serif, sans-serif" font-size="10.2" fill="#000" textLength="14.2" lengthAdjust="spacingAndGlyphs" stroke="#000" stroke-width="0.15" filter="url(#gs)">521</text>
<text x="410.8" y="305.8" font-family="Liberation Serif, sans-serif" font-size="10.2" fill="#000" textLength="15" lengthAdjust="spacingAndGlyphs" stroke="#000" stroke-width="0.15" filter="url(#gs)">250</text>
<text x="609.2" y="296" font-family="Liberation Serif, sans-serif" font-size="10.2" fill="#000" textLength="15.2" lengthAdjust="spacingAndGlyphs" stroke="#000" stroke-width="0.15" filter="url(#gs)">100</text>
<path d="M504 254.95H609.4A34.9 34.9 0 0 1 609.4 324.75H504A34.9 34.9 0 0 1 504 254.95Z" stroke="#777" stroke-width="1.1" fill="none" />
<path d="M504 256.85H609.4A33 33 0 0 1 609.4 322.85H504A33 33 0 0 1 504 256.85Z" stroke="#f08c98" stroke-width="1.1" fill="none" />
<path d="M504 258.85H609.4A31 31 0 0 1 609.4 320.85H504A31 31 0 0 1 504 258.85Z" stroke="#888" stroke-width="0.9" fill="none" />
<rect x="531.5" y="277.7" width="50.5" height="23.3" stroke="#333" stroke-width="1" fill="none" />
<path d="M532 275.7H582M532 303.4H582" stroke="#555" stroke-width="0.9" fill="none" />
<path d="M532 275.7A13.9 13.9 0 0 0 532 303.4" stroke="#555" stroke-width="0.7" fill="none" />
<path d="M581.5 275.7A13.9 13.9 0 0 1 581.5 303.4" stroke="#555" stroke-width="0.7" fill="none" />
<circle cx="536.8" cy="282.8" r="1.6" stroke="#555" stroke-width="0.6" fill="none"/>
<circle cx="536.8" cy="296.7" r="1.6" stroke="#555" stroke-width="0.6" fill="none"/>
<circle cx="576.3" cy="282.8" r="1.6" stroke="#555" stroke-width="0.6" fill="none"/>
<circle cx="576.3" cy="296.7" r="1.6" stroke="#555" stroke-width="0.6" fill="none"/>
<line x1="536.8" y1="282.8" x2="511.5" y2="256.7" stroke="#444" stroke-width="0.7" />
<circle cx="511.5" cy="256.7" r="0.9" stroke="#e22" stroke-width="0.1" fill="#e22"/>
<line x1="536.8" y1="296.7" x2="511.5" y2="323.2" stroke="#444" stroke-width="0.7" />
<circle cx="511.5" cy="323.2" r="0.9" stroke="#e22" stroke-width="0.1" fill="#e22"/>
<line x1="576.3" y1="282.8" x2="601.5" y2="256.7" stroke="#444" stroke-width="0.7" />
<circle cx="601.5" cy="256.7" r="0.9" stroke="#e22" stroke-width="0.1" fill="#e22"/>
<line x1="576.3" y1="296.7" x2="601.5" y2="323.2" stroke="#444" stroke-width="0.7" />
<circle cx="601.5" cy="323.2" r="0.9" stroke="#e22" stroke-width="0.1" fill="#e22"/>
<g stroke="#e455ad" stroke-width="0.42" fill="none" opacity="0.8"><circle cx="503.6" cy="231.3" r="15"/><path d="M503.6 216.3 L498.29 217.55 L496.06 218.8 L494.37 220.05 L492.99 221.3 L491.85 222.55 L490.9 223.8 L490.14 225.05 L489.53 226.3 L489.09 227.55 L488.81 228.8 L488.68 230.05 L488.69 231.3 L488.86 232.55 L489.17 233.8 L489.62 235.05 L490.22 236.3 L490.95 237.55 L491.83 238.8 L492.86 240.05 L494.04 241.3 L495.41 242.55 L497.02 243.8 L499.05 245.05 L503.6 246.3 M503.6 216.3 L497.81 217.55 L495.48 218.8 L493.79 220.05 L492.47 221.3 L491.43 222.55 L490.61 223.8 L489.99 225.05 L489.56 226.3 L489.3 227.55 L489.19 228.8 L489.24 230.05 L489.44 231.3 L489.78 232.55 L490.25 233.8 L490.85 235.05 L491.57 236.3 L492.4 237.55 L493.35 238.8 L494.41 240.05 L495.57 241.3 L496.86 242.55 L498.31 243.8 L500.03 245.05 L503.6 246.3 M503.6 216.3 L497.61 217.55 L495.31 218.8 L493.71 220.05 L492.51 221.3 L491.62 222.55 L490.97 223.8 L490.53 225.05 L490.29 226.3 L490.21 227.55 L490.3 228.8 L490.53 230.05 L490.9 231.3 L491.39 232.55 L492 233.8 L492.71 235.05 L493.52 236.3 L494.42 237.55 L495.38 238.8 L496.42 240.05 L497.51 241.3 L498.65 242.55 L499.86 243.8 L501.19 245.05 L503.6 246.3 M503.6 216.3 L497.71 217.55 L495.55 218.8 L494.12 220.05 L493.11 221.3 L492.41 222.55 L491.96 223.8 L491.73 225.05 L491.68 226.3 L491.8 227.55 L492.07 228.8 L492.47 230.05 L492.99 231.3 L493.62 232.55 L494.33 233.8 L495.13 235.05 L495.98 236.3 L496.89 237.55 L497.83 238.8 L498.79 240.05 L499.74 241.3 L500.69 242.55 L501.6 243.8 L502.47 245.05 L503.6 246.3 M503.6 216.3 L498.11 217.55 L496.2 218.8 L495 220.05 L494.23 221.3 L493.76 222.55 L493.54 223.8 L493.52 225.05 L493.68 226.3 L493.99 227.55 L494.42 228.8 L494.97 230.05 L495.62 231.3 L496.34 232.55 L497.13 233.8 L497.96 235.05 L498.83 236.3 L499.7 237.55 L500.56 238.8 L501.4 240.05 L502.18 241.3 L502.87 242.55 L503.44 243.8 L503.81 245.05 L503.6 246.3 M503.6 216.3 L498.79 217.55 L497.22 218.8 L496.32 220.05 L495.82 221.3 L495.61 222.55 L495.62 223.8 L495.82 225.05 L496.17 226.3 L496.65 227.55 L497.23 228.8 L497.91 230.05 L498.65 231.3 L499.43 232.55 L500.25 233.8 L501.08 235.05 L501.91 236.3 L502.7 237.55 L503.45 238.8 L504.12 240.05 L504.68 241.3 L505.09 242.55 L505.29 243.8 L505.14 245.05 L503.6 246.3 M503.6 216.3 L499.7 217.55 L498.56 218.8 L498 220.05 L497.8 221.3 L497.85 222.55 L498.1 223.8 L498.5 225.05 L499.03 226.3 L499.66 227.55 L500.36 228.8 L501.12 230.05 L501.92 231.3 L502.73 232.55 L503.54 233.8 L504.33 235.05 L505.07 236.3 L505.75 237.55 L506.34 238.8 L506.81 240.05 L507.13 241.3 L507.24 242.55 L507.05 243.8 L506.39 245.05 L503.6 246.3 M503.6 216.3 L500.81 217.55 L500.15 218.8 L499.96 220.05 L500.07 221.3 L500.39 222.55 L500.86 223.8 L501.45 225.05 L502.13 226.3 L502.87 227.55 L503.66 228.8 L504.47 230.05 L505.28 231.3 L506.08 232.55 L506.84 233.8 L507.54 235.05 L508.17 236.3 L508.7 237.55 L509.1 238.8 L509.35 240.05 L509.4 241.3 L509.2 242.55 L508.64 243.8 L507.5 245.05 L503.6 246.3 M503.6 216.3 L502.06 217.55 L501.91 218.8 L502.11 220.05 L502.52 221.3 L503.08 222.55 L503.75 223.8 L504.5 225.05 L505.29 226.3 L506.12 227.55 L506.95 228.8 L507.77 230.05 L508.55 231.3 L509.29 232.55 L509.97 233.8 L510.55 235.05 L511.03 236.3 L511.38 237.55 L511.58 238.8 L511.59 240.05 L511.38 241.3 L510.88 242.55 L509.98 243.8 L508.41 245.05 L503.6 246.3 M503.6 216.3 L503.39 217.55 L503.76 218.8 L504.33 220.05 L505.02 221.3 L505.8 222.55 L506.64 223.8 L507.5 225.05 L508.37 226.3 L509.24 227.55 L510.07 228.8 L510.86 230.05 L511.58 231.3 L512.23 232.55 L512.78 233.8 L513.21 235.05 L513.52 236.3 L513.68 237.55 L513.66 238.8 L513.44 240.05 L512.97 241.3 L512.2 242.55 L511 243.8 L509.09 245.05 L503.6 246.3 M503.6 216.3 L504.73 217.55 L505.6 218.8 L506.51 220.05 L507.46 221.3 L508.41 222.55 L509.37 223.8 L510.31 225.05 L511.22 226.3 L512.07 227.55 L512.87 228.8 L513.58 230.05 L514.21 231.3 L514.73 232.55 L515.13 233.8 L515.4 235.05 L515.52 236.3 L515.47 237.55 L515.24 238.8 L514.79 240.05 L514.09 241.3 L513.08 242.55 L511.65 243.8 L509.49 245.05 L503.6 246.3 M503.6 216.3 L506.01 217.55 L507.34 218.8 L508.55 220.05 L509.69 221.3 L510.78 222.55 L511.82 223.8 L512.78 225.05 L513.68 226.3 L514.49 227.55 L515.2 228.8 L515.81 230.05 L516.3 231.3 L516.67 232.55 L516.9 233.8 L516.99 235.05 L516.91 236.3 L516.67 237.55 L516.23 238.8 L515.58 240.05 L514.69 241.3 L513.49 242.55 L511.89 243.8 L509.59 245.05 L503.6 246.3 M503.6 216.3 L507.17 217.55 L508.89 218.8 L510.34 220.05 L511.63 221.3 L512.79 222.55 L513.85 223.8 L514.8 225.05 L515.63 226.3 L516.35 227.55 L516.95 228.8 L517.42 230.05 L517.76 231.3 L517.96 232.55 L518.01 233.8 L517.9 235.05 L517.64 236.3 L517.21 237.55 L516.59 238.8 L515.77 240.05 L514.73 241.3 L513.41 242.55 L511.72 243.8 L509.39 245.05 L503.6 246.3 M503.6 216.3 L508.15 217.55 L510.18 218.8 L511.79 220.05 L513.16 221.3 L514.34 222.55 L515.37 223.8 L516.25 225.05 L516.98 226.3 L517.58 227.55 L518.03 228.8 L518.34 230.05 L518.51 231.3 L518.52 232.55 L518.39 233.8 L518.11 235.05 L517.67 236.3 L517.06 237.55 L516.3 238.8 L515.35 240.05 L514.21 241.3 L512.83 242.55 L511.14 243.8 L508.91 245.05 L503.6 246.3"/></g>
<g stroke="#e455ad" stroke-width="0.42" fill="none" opacity="0.8"><circle cx="503.6" cy="347.6" r="15"/><path d="M503.6 332.6 L499.05 333.85 L497.02 335.1 L495.41 336.35 L494.04 337.6 L492.86 338.85 L491.83 340.1 L490.95 341.35 L490.22 342.6 L489.62 343.85 L489.17 345.1 L488.86 346.35 L488.69 347.6 L488.68 348.85 L488.81 350.1 L489.09 351.35 L489.53 352.6 L490.14 353.85 L490.9 355.1 L491.85 356.35 L492.99 357.6 L494.37 358.85 L496.06 360.1 L498.29 361.35 L503.6 362.6 M503.6 332.6 L500.03 333.85 L498.31 335.1 L496.86 336.35 L495.57 337.6 L494.41 338.85 L493.35 340.1 L492.4 341.35 L491.57 342.6 L490.85 343.85 L490.25 345.1 L489.78 346.35 L489.44 347.6 L489.24 348.85 L489.19 350.1 L489.3 351.35 L489.56 352.6 L489.99 353.85 L490.61 355.1 L491.43 356.35 L492.47 357.6 L493.79 358.85 L495.48 360.1 L497.81 361.35 L503.6 362.6 M503.6 332.6 L501.19 333.85 L499.86 335.1 L498.65 336.35 L497.51 337.6 L496.42 338.85 L495.38 340.1 L494.42 341.35 L493.52 342.6 L492.71 343.85 L492 345.1 L491.39 346.35 L490.9 347.6 L490.53 348.85 L490.3 350.1 L490.21 351.35 L490.29 352.6 L490.53 353.85 L490.97 355.1 L491.62 356.35 L492.51 357.6 L493.71 358.85 L495.31 360.1 L497.61 361.35 L503.6 362.6 M503.6 332.6 L502.47 333.85 L501.6 335.1 L500.69 336.35 L499.74 337.6 L498.79 338.85 L497.83 340.1 L496.89 341.35 L495.98 342.6 L495.13 343.85 L494.33 345.1 L493.62 346.35 L492.99 347.6 L492.47 348.85 L492.07 350.1 L491.8 351.35 L491.68 352.6 L491.73 353.85 L491.96 355.1 L492.41 356.35 L493.11 357.6 L494.12 358.85 L495.55 360.1 L497.71 361.35 L503.6 362.6 M503.6 332.6 L503.81 333.85 L503.44 335.1 L502.87 336.35 L502.18 337.6 L501.4 338.85 L500.56 340.1 L499.7 341.35 L498.83 342.6 L497.96 343.85 L497.13 345.1 L496.34 346.35 L495.62 347.6 L494.97 348.85 L494.42 350.1 L493.99 351.35 L493.68 352.6 L493.52 353.85 L493.54 355.1 L493.76 356.35 L494.23 357.6 L495 358.85 L496.2 360.1 L498.11 361.35 L503.6 362.6 M503.6 332.6 L505.14 333.85 L505.29 335.1 L505.09 336.35 L504.68 337.6 L504.12 338.85 L503.45 340.1 L502.7 341.35 L501.91 342.6 L501.08 343.85 L500.25 345.1 L499.43 346.35 L498.65 347.6 L497.91 348.85 L497.23 350.1 L496.65 351.35 L496.17 352.6 L495.82 353.85 L495.62 355.1 L495.61 356.35 L495.82 357.6 L496.32 358.85 L497.22 360.1 L498.79 361.35 L503.6 362.6 M503.6 332.6 L506.39 333.85 L507.05 335.1 L507.24 336.35 L507.13 337.6 L506.81 338.85 L506.34 340.1 L505.75 341.35 L505.07 342.6 L504.33 343.85 L503.54 345.1 L502.73 346.35 L501.92 347.6 L501.12 348.85 L500.36 350.1 L499.66 351.35 L499.03 352.6 L498.5 353.85 L498.1 355.1 L497.85 356.35 L497.8 357.6 L498 358.85 L498.56 360.1 L499.7 361.35 L503.6 362.6 M503.6 332.6 L507.5 333.85 L508.64 335.1 L509.2 336.35 L509.4 337.6 L509.35 338.85 L509.1 340.1 L508.7 341.35 L508.17 342.6 L507.54 343.85 L506.84 345.1 L506.08 346.35 L505.28 347.6 L504.47 348.85 L503.66 350.1 L502.87 351.35 L502.13 352.6 L501.45 353.85 L500.86 355.1 L500.39 356.35 L500.07 357.6 L499.96 358.85 L500.15 360.1 L500.81 361.35 L503.6 362.6 M503.6 332.6 L508.41 333.85 L509.98 335.1 L510.88 336.35 L511.38 337.6 L511.59 338.85 L511.58 340.1 L511.38 341.35 L511.03 342.6 L510.55 343.85 L509.97 345.1 L509.29 346.35 L508.55 347.6 L507.77 348.85 L506.95 350.1 L506.12 351.35 L505.29 352.6 L504.5 353.85 L503.75 355.1 L503.08 356.35 L502.52 357.6 L502.11 358.85 L501.91 360.1 L502.06 361.35 L503.6 362.6 M503.6 332.6 L509.09 333.85 L511 335.1 L512.2 336.35 L512.97 337.6 L513.44 338.85 L513.66 340.1 L513.68 341.35 L513.52 342.6 L513.21 343.85 L512.78 345.1 L512.23 346.35 L511.58 347.6 L510.86 348.85 L510.07 350.1 L509.24 351.35 L508.37 352.6 L507.5 353.85 L506.64 355.1 L505.8 356.35 L505.02 357.6 L504.33 358.85 L503.76 360.1 L503.39 361.35 L503.6 362.6 M503.6 332.6 L509.49 333.85 L511.65 335.1 L513.08 336.35 L514.09 337.6 L514.79 338.85 L515.24 340.1 L515.47 341.35 L515.52 342.6 L515.4 343.85 L515.13 345.1 L514.73 346.35 L514.21 347.6 L513.58 348.85 L512.87 350.1 L512.07 351.35 L511.22 352.6 L510.31 353.85 L509.37 355.1 L508.41 356.35 L507.46 357.6 L506.51 358.85 L505.6 360.1 L504.73 361.35 L503.6 362.6 M503.6 332.6 L509.59 333.85 L511.89 335.1 L513.49 336.35 L514.69 337.6 L515.58 338.85 L516.23 340.1 L516.67 341.35 L516.91 342.6 L516.99 343.85 L516.9 345.1 L516.67 346.35 L516.3 347.6 L515.81 348.85 L515.2 350.1 L514.49 351.35 L513.68 352.6 L512.78 353.85 L511.82 355.1 L510.78 356.35 L509.69 357.6 L508.55 358.85 L507.34 360.1 L506.01 361.35 L503.6 362.6 M503.6 332.6 L509.39 333.85 L511.72 335.1 L513.41 336.35 L514.73 337.6 L515.77 338.85 L516.59 340.1 L517.21 341.35 L517.64 342.6 L517.9 343.85 L518.01 345.1 L517.96 346.35 L517.76 347.6 L517.42 348.85 L516.95 350.1 L516.35 351.35 L515.63 352.6 L514.8 353.85 L513.85 355.1 L512.79 356.35 L511.63 357.6 L510.34 358.85 L508.89 360.1 L507.17 361.35 L503.6 362.6 M503.6 332.6 L508.91 333.85 L511.14 335.1 L512.83 336.35 L514.21 337.6 L515.35 338.85 L516.3 340.1 L517.06 341.35 L517.67 342.6 L518.11 343.85 L518.39 345.1 L518.52 346.35 L518.51 347.6 L518.34 348.85 L518.03 350.1 L517.58 351.35 L516.98 352.6 L516.25 353.85 L515.37 355.1 L514.34 356.35 L513.16 357.6 L511.79 358.85 L510.18 360.1 L508.15 361.35 L503.6 362.6"/></g>
<g stroke="#e455ad" stroke-width="0.42" fill="none" opacity="0.8"><circle cx="520.8" cy="231.3" r="15"/><path d="M520.8 216.3 L515.49 217.55 L513.26 218.8 L511.57 220.05 L510.19 221.3 L509.05 222.55 L508.1 223.8 L507.34 225.05 L506.73 226.3 L506.29 227.55 L506.01 228.8 L505.88 230.05 L505.89 231.3 L506.06 232.55 L506.37 233.8 L506.82 235.05 L507.42 236.3 L508.15 237.55 L509.03 238.8 L510.06 240.05 L511.24 241.3 L512.61 242.55 L514.22 243.8 L516.25 245.05 L520.8 246.3 M520.8 216.3 L515.01 217.55 L512.68 218.8 L510.99 220.05 L509.67 221.3 L508.63 222.55 L507.81 223.8 L507.19 225.05 L506.76 226.3 L506.5 227.55 L506.39 228.8 L506.44 230.05 L506.64 231.3 L506.98 232.55 L507.45 233.8 L508.05 235.05 L508.77 236.3 L509.6 237.55 L510.55 238.8 L511.61 240.05 L512.77 241.3 L514.06 242.55 L515.51 243.8 L517.23 245.05 L520.8 246.3 M520.8 216.3 L514.81 217.55 L512.51 218.8 L510.91 220.05 L509.71 221.3 L508.82 222.55 L508.17 223.8 L507.73 225.05 L507.49 226.3 L507.41 227.55 L507.5 228.8 L507.73 230.05 L508.1 231.3 L508.59 232.55 L509.2 233.8 L509.91 235.05 L510.72 236.3 L511.62 237.55 L512.58 238.8 L513.62 240.05 L514.71 241.3 L515.85 242.55 L517.06 243.8 L518.39 245.05 L520.8 246.3 M520.8 216.3 L514.91 217.55 L512.75 218.8 L511.32 220.05 L510.31 221.3 L509.61 222.55 L509.16 223.8 L508.93 225.05 L508.88 226.3 L509 227.55 L509.27 228.8 L509.67 230.05 L510.19 231.3 L510.82 232.55 L511.53 233.8 L512.33 235.05 L513.18 236.3 L514.09 237.55 L515.03 238.8 L515.99 240.05 L516.94 241.3 L517.89 242.55 L518.8 243.8 L519.67 245.05 L520.8 246.3 M520.8 216.3 L515.31 217.55 L513.4 218.8 L512.2 220.05 L511.43 221.3 L510.96 222.55 L510.74 223.8 L510.72 225.05 L510.88 226.3 L511.19 227.55 L511.62 228.8 L512.17 230.05 L512.82 231.3 L513.54 232.55 L514.33 233.8 L515.16 235.05 L516.03 236.3 L516.9 237.55 L517.76 238.8 L518.6 240.05 L519.38 241.3 L520.07 242.55 L520.64 243.8 L521.01 245.05 L520.8 246.3 M520.8 216.3 L515.99 217.55 L514.42 218.8 L513.52 220.05 L513.02 221.3 L512.81 222.55 L512.82 223.8 L513.02 225.05 L513.37 226.3 L513.85 227.55 L514.43 228.8 L515.11 230.05 L515.85 231.3 L516.63 232.55 L517.45 233.8 L518.28 235.05 L519.11 236.3 L519.9 237.55 L520.65 238.8 L521.32 240.05 L521.88 241.3 L522.29 242.55 L522.49 243.8 L522.34 245.05 L520.8 246.3 M520.8 216.3 L516.9 217.55 L515.76 218.8 L515.2 220.05 L515 221.3 L515.05 222.55 L515.3 223.8 L515.7 225.05 L516.23 226.3 L516.86 227.55 L517.56 228.8 L518.32 230.05 L519.12 231.3 L519.93 232.55 L520.74 233.8 L521.53 235.05 L522.27 236.3 L522.95 237.55 L523.54 238.8 L524.01 240.05 L524.33 241.3 L524.44 242.55 L524.25 243.8 L523.59 245.05 L520.8 246.3 M520.8 216.3 L518.01 217.55 L517.35 218.8 L517.16 220.05 L517.27 221.3 L517.59 222.55 L518.06 223.8 L518.65 225.05 L519.33 226.3 L520.07 227.55 L520.86 228.8 L521.67 230.05 L522.48 231.3 L523.28 232.55 L524.04 233.8 L524.74 235.05 L525.37 236.3 L525.9 237.55 L526.3 238.8 L526.55 240.05 L526.6 241.3 L526.4 242.55 L525.84 243.8 L524.7 245.05 L520.8 246.3 M520.8 216.3 L519.26 217.55 L519.11 218.8 L519.31 220.05 L519.72 221.3 L520.28 222.55 L520.95 223.8 L521.7 225.05 L522.49 226.3 L523.32 227.55 L524.15 228.8 L524.97 230.05 L525.75 231.3 L526.49 232.55 L527.17 233.8 L527.75 235.05 L528.23 236.3 L528.58 237.55 L528.78 238.8 L528.79 240.05 L528.58 241.3 L528.08 242.55 L527.18 243.8 L525.61 245.05 L520.8 246.3 M520.8 216.3 L520.59 217.55 L520.96 218.8 L521.53 220.05 L522.22 221.3 L523 222.55 L523.84 223.8 L524.7 225.05 L525.57 226.3 L526.44 227.55 L527.27 228.8 L528.06 230.05 L528.78 231.3 L529.43 232.55 L529.98 233.8 L530.41 235.05 L530.72 236.3 L530.88 237.55 L530.86 238.8 L530.64 240.05 L530.17 241.3 L529.4 242.55 L528.2 243.8 L526.29 245.05 L520.8 246.3 M520.8 216.3 L521.93 217.55 L522.8 218.8 L523.71 220.05 L524.66 221.3 L525.61 222.55 L526.57 223.8 L527.51 225.05 L528.42 226.3 L529.27 227.55 L530.07 228.8 L530.78 230.05 L531.41 231.3 L531.93 232.55 L532.33 233.8 L532.6 235.05 L532.72 236.3 L532.67 237.55 L532.44 238.8 L531.99 240.05 L531.29 241.3 L530.28 242.55 L528.85 243.8 L526.69 245.05 L520.8 246.3 M520.8 216.3 L523.21 217.55 L524.54 218.8 L525.75 220.05 L526.89 221.3 L527.98 222.55 L529.02 223.8 L529.98 225.05 L530.88 226.3 L531.69 227.55 L532.4 228.8 L533.01 230.05 L533.5 231.3 L533.87 232.55 L534.1 233.8 L534.19 235.05 L534.11 236.3 L533.87 237.55 L533.43 238.8 L532.78 240.05 L531.89 241.3 L530.69 242.55 L529.09 243.8 L526.79 245.05 L520.8 246.3 M520.8 216.3 L524.37 217.55 L526.09 218.8 L527.54 220.05 L528.83 221.3 L529.99 222.55 L531.05 223.8 L532 225.05 L532.83 226.3 L533.55 227.55 L534.15 228.8 L534.62 230.05 L534.96 231.3 L535.16 232.55 L535.21 233.8 L535.1 235.05 L534.84 236.3 L534.41 237.55 L533.79 238.8 L532.97 240.05 L531.93 241.3 L530.61 242.55 L528.92 243.8 L526.59 245.05 L520.8 246.3 M520.8 216.3 L525.35 217.55 L527.38 218.8 L528.99 220.05 L530.36 221.3 L531.54 222.55 L532.57 223.8 L533.45 225.05 L534.18 226.3 L534.78 227.55 L535.23 228.8 L535.54 230.05 L535.71 231.3 L535.72 232.55 L535.59 233.8 L535.31 235.05 L534.87 236.3 L534.26 237.55 L533.5 238.8 L532.55 240.05 L531.41 241.3 L530.03 242.55 L528.34 243.8 L526.11 245.05 L520.8 246.3"/></g>
<g stroke="#e455ad" stroke-width="0.42" fill="none" opacity="0.8"><circle cx="520.8" cy="347.6" r="15"/><path d="M520.8 332.6 L516.25 333.85 L514.22 335.1 L512.61 336.35 L511.24 337.6 L510.06 338.85 L509.03 340.1 L508.15 341.35 L507.42 342.6 L506.82 343.85 L506.37 345.1 L506.06 346.35 L505.89 347.6 L505.88 348.85 L506.01 350.1 L506.29 351.35 L506.73 352.6 L507.34 353.85 L508.1 355.1 L509.05 356.35 L510.19 357.6 L511.57 358.85 L513.26 360.1 L515.49 361.35 L520.8 362.6 M520.8 332.6 L517.23 333.85 L515.51 335.1 L514.06 336.35 L512.77 337.6 L511.61 338.85 L510.55 340.1 L509.6 341.35 L508.77 342.6 L508.05 343.85 L507.45 345.1 L506.98 346.35 L506.64 347.6 L506.44 348.85 L506.39 350.1 L506.5 351.35 L506.76 352.6 L507.19 353.85 L507.81 355.1 L508.63 356.35 L509.67 357.6 L510.99 358.85 L512.68 360.1 L515.01 361.35 L520.8 362.6 M520.8 332.6 L518.39 333.85 L517.06 335.1 L515.85 336.35 L514.71 337.6 L513.62 338.85 L512.58 340.1 L511.62 341.35 L510.72 342.6 L509.91 343.85 L509.2 345.1 L508.59 346.35 L508.1 347.6 L507.73 348.85 L507.5 350.1 L507.41 351.35 L507.49 352.6 L507.73 353.85 L508.17 355.1 L508.82 356.35 L509.71 357.6 L510.91 358.85 L512.51 360.1 L514.81 361.35 L520.8 362.6 M520.8 332.6 L519.67 333.85 L518.8 335.1 L517.89 336.35 L516.94 337.6 L515.99 338.85 L515.03 340.1 L514.09 341.35 L513.18 342.6 L512.33 343.85 L511.53 345.1 L510.82 346.35 L510.19 347.6 L509.67 348.85 L509.27 350.1 L509 351.35 L508.88 352.6 L508.93 353.85 L509.16 355.1 L509.61 356.35 L510.31 357.6 L511.32 358.85 L512.75 360.1 L514.91 361.35 L520.8 362.6 M520.8 332.6 L521.01 333.85 L520.64 335.1 L520.07 336.35 L519.38 337.6 L518.6 338.85 L517.76 340.1 L516.9 341.35 L516.03 342.6 L515.16 343.85 L514.33 345.1 L513.54 346.35 L512.82 347.6 L512.17 348.85 L511.62 350.1 L511.19 351.35 L510.88 352.6 L510.72 353.85 L510.74 355.1 L510.96 356.35 L511.43 357.6 L512.2 358.85 L513.4 360.1 L515.31 361.35 L520.8 362.6 M520.8 332.6 L522.34 333.85 L522.49 335.1 L522.29 336.35 L521.88 337.6 L521.32 338.85 L520.65 340.1 L519.9 341.35 L519.11 342.6 L518.28 343.85 L517.45 345.1 L516.63 346.35 L515.85 347.6 L515.11 348.85 L514.43 350.1 L513.85 351.35 L513.37 352.6 L513.02 353.85 L512.82 355.1 L512.81 356.35 L513.02 357.6 L513.52 358.85 L514.42 360.1 L515.99 361.35 L520.8 362.6 M520.8 332.6 L523.59 333.85 L524.25 335.1 L524.44 336.35 L524.33 337.6 L524.01 338.85 L523.54 340.1 L522.95 341.35 L522.27 342.6 L521.53 343.85 L520.74 345.1 L519.93 346.35 L519.12 347.6 L518.32 348.85 L517.56 350.1 L516.86 351.35 L516.23 352.6 L515.7 353.85 L515.3 355.1 L515.05 356.35 L515 357.6 L515.2 358.85 L515.76 360.1 L516.9 361.35 L520.8 362.6 M520.8 332.6 L524.7 333.85 L525.84 335.1 L526.4 336.35 L526.6 337.6 L526.55 338.85 L526.3 340.1 L525.9 341.35 L525.37 342.6 L524.74 343.85 L524.04 345.1 L523.28 346.35 L522.48 347.6 L521.67 348.85 L520.86 350.1 L520.07 351.35 L519.33 352.6 L518.65 353.85 L518.06 355.1 L517.59 356.35 L517.27 357.6 L517.16 358.85 L517.35 360.1 L518.01 361.35 L520.8 362.6 M520.8 332.6 L525.61 333.85 L527.18 335.1 L528.08 336.35 L528.58 337.6 L528.79 338.85 L528.78 340.1 L528.58 341.35 L528.23 342.6 L527.75 343.85 L527.17 345.1 L526.49 346.35 L525.75 347.6 L524.97 348.85 L524.15 350.1 L523.32 351.35 L522.49 352.6 L521.7 353.85 L520.95 355.1 L520.28 356.35 L519.72 357.6 L519.31 358.85 L519.11 360.1 L519.26 361.35 L520.8 362.6 M520.8 332.6 L526.29 333.85 L528.2 335.1 L529.4 336.35 L530.17 337.6 L530.64 338.85 L530.86 340.1 L530.88 341.35 L530.72 342.6 L530.41 343.85 L529.98 345.1 L529.43 346.35 L528.78 347.6 L528.06 348.85 L527.27 350.1 L526.44 351.35 L525.57 352.6 L524.7 353.85 L523.84 355.1 L523 356.35 L522.22 357.6 L521.53 358.85 L520.96 360.1 L520.59 361.35 L520.8 362.6 M520.8 332.6 L526.69 333.85 L528.85 335.1 L530.28 336.35 L531.29 337.6 L531.99 338.85 L532.44 340.1 L532.67 341.35 L532.72 342.6 L532.6 343.85 L532.33 345.1 L531.93 346.35 L531.41 347.6 L530.78 348.85 L530.07 350.1 L529.27 351.35 L528.42 352.6 L527.51 353.85 L526.57 355.1 L525.61 356.35 L524.66 357.6 L523.71 358.85 L522.8 360.1 L521.93 361.35 L520.8 362.6 M520.8 332.6 L526.79 333.85 L529.09 335.1 L530.69 336.35 L531.89 337.6 L532.78 338.85 L533.43 340.1 L533.87 341.35 L534.11 342.6 L534.19 343.85 L534.1 345.1 L533.87 346.35 L533.5 347.6 L533.01 348.85 L532.4 350.1 L531.69 351.35 L530.88 352.6 L529.98 353.85 L529.02 355.1 L527.98 356.35 L526.89 357.6 L525.75 358.85 L524.54 360.1 L523.21 361.35 L520.8 362.6 M520.8 332.6 L526.59 333.85 L528.92 335.1 L530.61 336.35 L531.93 337.6 L532.97 338.85 L533.79 340.1 L534.41 341.35 L534.84 342.6 L535.1 343.85 L535.21 345.1 L535.16 346.35 L534.96 347.6 L534.62 348.85 L534.15 350.1 L533.55 351.35 L532.83 352.6 L532 353.85 L531.05 355.1 L529.99 356.35 L528.83 357.6 L527.54 358.85 L526.09 360.1 L524.37 361.35 L520.8 362.6 M520.8 332.6 L526.11 333.85 L528.34 335.1 L530.03 336.35 L531.41 337.6 L532.55 338.85 L533.5 340.1 L534.26 341.35 L534.87 342.6 L535.31 343.85 L535.59 345.1 L535.72 346.35 L535.71 347.6 L535.54 348.85 L535.23 350.1 L534.78 351.35 L534.18 352.6 L533.45 353.85 L532.57 355.1 L531.54 356.35 L530.36 357.6 L528.99 358.85 L527.38 360.1 L525.35 361.35 L520.8 362.6"/></g>
<g stroke="#e455ad" stroke-width="0.42" fill="none" opacity="0.8"><circle cx="593.8" cy="231.3" r="15"/><path d="M593.8 216.3 L588.49 217.55 L586.26 218.8 L584.57 220.05 L583.19 221.3 L582.05 222.55 L581.1 223.8 L580.34 225.05 L579.73 226.3 L579.29 227.55 L579.01 228.8 L578.88 230.05 L578.89 231.3 L579.06 232.55 L579.37 233.8 L579.82 235.05 L580.42 236.3 L581.15 237.55 L582.03 238.8 L583.06 240.05 L584.24 241.3 L585.61 242.55 L587.22 243.8 L589.25 245.05 L593.8 246.3 M593.8 216.3 L588.01 217.55 L585.68 218.8 L583.99 220.05 L582.67 221.3 L581.63 222.55 L580.81 223.8 L580.19 225.05 L579.76 226.3 L579.5 227.55 L579.39 228.8 L579.44 230.05 L579.64 231.3 L579.98 232.55 L580.45 233.8 L581.05 235.05 L581.77 236.3 L582.6 237.55 L583.55 238.8 L584.61 240.05 L585.77 241.3 L587.06 242.55 L588.51 243.8 L590.23 245.05 L593.8 246.3 M593.8 216.3 L587.81 217.55 L585.51 218.8 L583.91 220.05 L582.71 221.3 L581.82 222.55 L581.17 223.8 L580.73 225.05 L580.49 226.3 L580.41 227.55 L580.5 228.8 L580.73 230.05 L581.1 231.3 L581.59 232.55 L582.2 233.8 L582.91 235.05 L583.72 236.3 L584.62 237.55 L585.58 238.8 L586.62 240.05 L587.71 241.3 L588.85 242.55 L590.06 243.8 L591.39 245.05 L593.8 246.3 M593.8 216.3 L587.91 217.55 L585.75 218.8 L584.32 220.05 L583.31 221.3 L582.61 222.55 L582.16 223.8 L581.93 225.05 L581.88 226.3 L582 227.55 L582.27 228.8 L582.67 230.05 L583.19 231.3 L583.82 232.55 L584.53 233.8 L585.33 235.05 L586.18 236.3 L587.09 237.55 L588.03 238.8 L588.99 240.05 L589.94 241.3 L590.89 242.55 L591.8 243.8 L592.67 245.05 L593.8 246.3 M593.8 216.3 L588.31 217.55 L586.4 218.8 L585.2 220.05 L584.43 221.3 L583.96 222.55 L583.74 223.8 L583.72 225.05 L583.88 226.3 L584.19 227.55 L584.62 228.8 L585.17 230.05 L585.82 231.3 L586.54 232.55 L587.33 233.8 L588.16 235.05 L589.03 236.3 L589.9 237.55 L590.76 238.8 L591.6 240.05 L592.38 241.3 L593.07 242.55 L593.64 243.8 L594.01 245.05 L593.8 246.3 M593.8 216.3 L588.99 217.55 L587.42 218.8 L586.52 220.05 L586.02 221.3 L585.81 222.55 L585.82 223.8 L586.02 225.05 L586.37 226.3 L586.85 227.55 L587.43 228.8 L588.11 230.05 L588.85 231.3 L589.63 232.55 L590.45 233.8 L591.28 235.05 L592.11 236.3 L592.9 237.55 L593.65 238.8 L594.32 240.05 L594.88 241.3 L595.29 242.55 L595.49 243.8 L595.34 245.05 L593.8 246.3 M593.8 216.3 L589.9 217.55 L588.76 218.8 L588.2 220.05 L588 221.3 L588.05 222.55 L588.3 223.8 L588.7 225.05 L589.23 226.3 L589.86 227.55 L590.56 228.8 L591.32 230.05 L592.12 231.3 L592.93 232.55 L593.74 233.8 L594.53 235.05 L595.27 236.3 L595.95 237.55 L596.54 238.8 L597.01 240.05 L597.33 241.3 L597.44 242.55 L597.25 243.8 L596.59 245.05 L593.8 246.3 M593.8 216.3 L591.01 217.55 L590.35 218.8 L590.16 220.05 L590.27 221.3 L590.59 222.55 L591.06 223.8 L591.65 225.05 L592.33 226.3 L593.07 227.55 L593.86 228.8 L594.67 230.05 L595.48 231.3 L596.28 232.55 L597.04 233.8 L597.74 235.05 L598.37 236.3 L598.9 237.55 L599.3 238.8 L599.55 240.05 L599.6 241.3 L599.4 242.55 L598.84 243.8 L597.7 245.05 L593.8 246.3 M593.8 216.3 L592.26 217.55 L592.11 218.8 L592.31 220.05 L592.72 221.3 L593.28 222.55 L593.95 223.8 L594.7 225.05 L595.49 226.3 L596.32 227.55 L597.15 228.8 L597.97 230.05 L598.75 231.3 L599.49 232.55 L600.17 233.8 L600.75 235.05 L601.23 236.3 L601.58 237.55 L601.78 238.8 L601.79 240.05 L601.58 241.3 L601.08 242.55 L600.18 243.8 L598.61 245.05 L593.8 246.3 M593.8 216.3 L593.59 217.55 L593.96 218.8 L594.53 220.05 L595.22 221.3 L596 222.55 L596.84 223.8 L597.7 225.05 L598.57 226.3 L599.44 227.55 L600.27 228.8 L601.06 230.05 L601.78 231.3 L602.43 232.55 L602.98 233.8 L603.41 235.05 L603.72 236.3 L603.88 237.55 L603.86 238.8 L603.64 240.05 L603.17 241.3 L602.4 242.55 L601.2 243.8 L599.29 245.05 L593.8 246.3 M593.8 216.3 L594.93 217.55 L595.8 218.8 L596.71 220.05 L597.66 221.3 L598.61 222.55 L599.57 223.8 L600.51 225.05 L601.42 226.3 L602.27 227.55 L603.07 228.8 L603.78 230.05 L604.41 231.3 L604.93 232.55 L605.33 233.8 L605.6 235.05 L605.72 236.3 L605.67 237.55 L605.44 238.8 L604.99 240.05 L604.29 241.3 L603.28 242.55 L601.85 243.8 L599.69 245.05 L593.8 246.3 M593.8 216.3 L596.21 217.55 L597.54 218.8 L598.75 220.05 L599.89 221.3 L600.98 222.55 L602.02 223.8 L602.98 225.05 L603.88 226.3 L604.69 227.55 L605.4 228.8 L606.01 230.05 L606.5 231.3 L606.87 232.55 L607.1 233.8 L607.19 235.05 L607.11 236.3 L606.87 237.55 L606.43 238.8 L605.78 240.05 L604.89 241.3 L603.69 242.55 L602.09 243.8 L599.79 245.05 L593.8 246.3 M593.8 216.3 L597.37 217.55 L599.09 218.8 L600.54 220.05 L601.83 221.3 L602.99 222.55 L604.05 223.8 L605 225.05 L605.83 226.3 L606.55 227.55 L607.15 228.8 L607.62 230.05 L607.96 231.3 L608.16 232.55 L608.21 233.8 L608.1 235.05 L607.84 236.3 L607.41 237.55 L606.79 238.8 L605.97 240.05 L604.93 241.3 L603.61 242.55 L601.92 243.8 L599.59 245.05 L593.8 246.3 M593.8 216.3 L598.35 217.55 L600.38 218.8 L601.99 220.05 L603.36 221.3 L604.54 222.55 L605.57 223.8 L606.45 225.05 L607.18 226.3 L607.78 227.55 L608.23 228.8 L608.54 230.05 L608.71 231.3 L608.72 232.55 L608.59 233.8 L608.31 235.05 L607.87 236.3 L607.26 237.55 L606.5 238.8 L605.55 240.05 L604.41 241.3 L603.03 242.55 L601.34 243.8 L599.11 245.05 L593.8 246.3"/></g>
<g stroke="#e455ad" stroke-width="0.42" fill="none" opacity="0.8"><circle cx="593.8" cy="347.6" r="15"/><path d="M593.8 332.6 L589.25 333.85 L587.22 335.1 L585.61 336.35 L584.24 337.6 L583.06 338.85 L582.03 340.1 L581.15 341.35 L580.42 342.6 L579.82 343.85 L579.37 345.1 L579.06 346.35 L578.89 347.6 L578.88 348.85 L579.01 350.1 L579.29 351.35 L579.73 352.6 L580.34 353.85 L581.1 355.1 L582.05 356.35 L583.19 357.6 L584.57 358.85 L586.26 360.1 L588.49 361.35 L593.8 362.6 M593.8 332.6 L590.23 333.85 L588.51 335.1 L587.06 336.35 L585.77 337.6 L584.61 338.85 L583.55 340.1 L582.6 341.35 L581.77 342.6 L581.05 343.85 L580.45 345.1 L579.98 346.35 L579.64 347.6 L579.44 348.85 L579.39 350.1 L579.5 351.35 L579.76 352.6 L580.19 353.85 L580.81 355.1 L581.63 356.35 L582.67 357.6 L583.99 358.85 L585.68 360.1 L588.01 361.35 L593.8 362.6 M593.8 332.6 L591.39 333.85 L590.06 335.1 L588.85 336.35 L587.71 337.6 L586.62 338.85 L585.58 340.1 L584.62 341.35 L583.72 342.6 L582.91 343.85 L582.2 345.1 L581.59 346.35 L581.1 347.6 L580.73 348.85 L580.5 350.1 L580.41 351.35 L580.49 352.6 L580.73 353.85 L581.17 355.1 L581.82 356.35 L582.71 357.6 L583.91 358.85 L585.51 360.1 L587.81 361.35 L593.8 362.6 M593.8 332.6 L592.67 333.85 L591.8 335.1 L590.89 336.35 L589.94 337.6 L588.99 338.85 L588.03 340.1 L587.09 341.35 L586.18 342.6 L585.33 343.85 L584.53 345.1 L583.82 346.35 L583.19 347.6 L582.67 348.85 L582.27 350.1 L582 351.35 L581.88 352.6 L581.93 353.85 L582.16 355.1 L582.61 356.35 L583.31 357.6 L584.32 358.85 L585.75 360.1 L587.91 361.35 L593.8 362.6 M593.8 332.6 L594.01 333.85 L593.64 335.1 L593.07 336.35 L592.38 337.6 L591.6 338.85 L590.76 340.1 L589.9 341.35 L589.03 342.6 L588.16 343.85 L587.33 345.1 L586.54 346.35 L585.82 347.6 L585.17 348.85 L584.62 350.1 L584.19 351.35 L583.88 352.6 L583.72 353.85 L583.74 355.1 L583.96 356.35 L584.43 357.6 L585.2 358.85 L586.4 360.1 L588.31 361.35 L593.8 362.6 M593.8 332.6 L595.34 333.85 L595.49 335.1 L595.29 336.35 L594.88 337.6 L594.32 338.85 L593.65 340.1 L592.9 341.35 L592.11 342.6 L591.28 343.85 L590.45 345.1 L589.63 346.35 L588.85 347.6 L588.11 348.85 L587.43 350.1 L586.85 351.35 L586.37 352.6 L586.02 353.85 L585.82 355.1 L585.81 356.35 L586.02 357.6 L586.52 358.85 L587.42 360.1 L588.99 361.35 L593.8 362.6 M593.8 332.6 L596.59 333.85 L597.25 335.1 L597.44 336.35 L597.33 337.6 L597.01 338.85 L596.54 340.1 L595.95 341.35 L595.27 342.6 L594.53 343.85 L593.74 345.1 L592.93 346.35 L592.12 347.6 L591.32 348.85 L590.56 350.1 L589.86 351.35 L589.23 352.6 L588.7 353.85 L588.3 355.1 L588.05 356.35 L588 357.6 L588.2 358.85 L588.76 360.1 L589.9 361.35 L593.8 362.6 M593.8 332.6 L597.7 333.85 L598.84 335.1 L599.4 336.35 L599.6 337.6 L599.55 338.85 L599.3 340.1 L598.9 341.35 L598.37 342.6 L597.74 343.85 L597.04 345.1 L596.28 346.35 L595.48 347.6 L594.67 348.85 L593.86 350.1 L593.07 351.35 L592.33 352.6 L591.65 353.85 L591.06 355.1 L590.59 356.35 L590.27 357.6 L590.16 358.85 L590.35 360.1 L591.01 361.35 L593.8 362.6 M593.8 332.6 L598.61 333.85 L600.18 335.1 L601.08 336.35 L601.58 337.6 L601.79 338.85 L601.78 340.1 L601.58 341.35 L601.23 342.6 L600.75 343.85 L600.17 345.1 L599.49 346.35 L598.75 347.6 L597.97 348.85 L597.15 350.1 L596.32 351.35 L595.49 352.6 L594.7 353.85 L593.95 355.1 L593.28 356.35 L592.72 357.6 L592.31 358.85 L592.11 360.1 L592.26 361.35 L593.8 362.6 M593.8 332.6 L599.29 333.85 L601.2 335.1 L602.4 336.35 L603.17 337.6 L603.64 338.85 L603.86 340.1 L603.88 341.35 L603.72 342.6 L603.41 343.85 L602.98 345.1 L602.43 346.35 L601.78 347.6 L601.06 348.85 L600.27 350.1 L599.44 351.35 L598.57 352.6 L597.7 353.85 L596.84 355.1 L596 356.35 L595.22 357.6 L594.53 358.85 L593.96 360.1 L593.59 361.35 L593.8 362.6 M593.8 332.6 L599.69 333.85 L601.85 335.1 L603.28 336.35 L604.29 337.6 L604.99 338.85 L605.44 340.1 L605.67 341.35 L605.72 342.6 L605.6 343.85 L605.33 345.1 L604.93 346.35 L604.41 347.6 L603.78 348.85 L603.07 350.1 L602.27 351.35 L601.42 352.6 L600.51 353.85 L599.57 355.1 L598.61 356.35 L597.66 357.6 L596.71 358.85 L595.8 360.1 L594.93 361.35 L593.8 362.6 M593.8 332.6 L599.79 333.85 L602.09 335.1 L603.69 336.35 L604.89 337.6 L605.78 338.85 L606.43 340.1 L606.87 341.35 L607.11 342.6 L607.19 343.85 L607.1 345.1 L606.87 346.35 L606.5 347.6 L606.01 348.85 L605.4 350.1 L604.69 351.35 L603.88 352.6 L602.98 353.85 L602.02 355.1 L600.98 356.35 L599.89 357.6 L598.75 358.85 L597.54 360.1 L596.21 361.35 L593.8 362.6 M593.8 332.6 L599.59 333.85 L601.92 335.1 L603.61 336.35 L604.93 337.6 L605.97 338.85 L606.79 340.1 L607.41 341.35 L607.84 342.6 L608.1 343.85 L608.21 345.1 L608.16 346.35 L607.96 347.6 L607.62 348.85 L607.15 350.1 L606.55 351.35 L605.83 352.6 L605 353.85 L604.05 355.1 L602.99 356.35 L601.83 357.6 L600.54 358.85 L599.09 360.1 L597.37 361.35 L593.8 362.6 M593.8 332.6 L599.11 333.85 L601.34 335.1 L603.03 336.35 L604.41 337.6 L605.55 338.85 L606.5 340.1 L607.26 341.35 L607.87 342.6 L608.31 343.85 L608.59 345.1 L608.72 346.35 L608.71 347.6 L608.54 348.85 L608.23 350.1 L607.78 351.35 L607.18 352.6 L606.45 353.85 L605.57 355.1 L604.54 356.35 L603.36 357.6 L601.99 358.85 L600.38 360.1 L598.35 361.35 L593.8 362.6"/></g>
<g stroke="#e455ad" stroke-width="0.42" fill="none" opacity="0.8"><circle cx="609.5" cy="231.3" r="15"/><path d="M609.5 216.3 L604.19 217.55 L601.96 218.8 L600.27 220.05 L598.89 221.3 L597.75 222.55 L596.8 223.8 L596.04 225.05 L595.43 226.3 L594.99 227.55 L594.71 228.8 L594.58 230.05 L594.59 231.3 L594.76 232.55 L595.07 233.8 L595.52 235.05 L596.12 236.3 L596.85 237.55 L597.73 238.8 L598.76 240.05 L599.94 241.3 L601.31 242.55 L602.92 243.8 L604.95 245.05 L609.5 246.3 M609.5 216.3 L603.71 217.55 L601.38 218.8 L599.69 220.05 L598.37 221.3 L597.33 222.55 L596.51 223.8 L595.89 225.05 L595.46 226.3 L595.2 227.55 L595.09 228.8 L595.14 230.05 L595.34 231.3 L595.68 232.55 L596.15 233.8 L596.75 235.05 L597.47 236.3 L598.3 237.55 L599.25 238.8 L600.31 240.05 L601.47 241.3 L602.76 242.55 L604.21 243.8 L605.93 245.05 L609.5 246.3 M609.5 216.3 L603.51 217.55 L601.21 218.8 L599.61 220.05 L598.41 221.3 L597.52 222.55 L596.87 223.8 L596.43 225.05 L596.19 226.3 L596.11 227.55 L596.2 228.8 L596.43 230.05 L596.8 231.3 L597.29 232.55 L597.9 233.8 L598.61 235.05 L599.42 236.3 L600.32 237.55 L601.28 238.8 L602.32 240.05 L603.41 241.3 L604.55 242.55 L605.76 243.8 L607.09 245.05 L609.5 246.3 M609.5 216.3 L603.61 217.55 L601.45 218.8 L600.02 220.05 L599.01 221.3 L598.31 222.55 L597.86 223.8 L597.63 225.05 L597.58 226.3 L597.7 227.55 L597.97 228.8 L598.37 230.05 L598.89 231.3 L599.52 232.55 L600.23 233.8 L601.03 235.05 L601.88 236.3 L602.79 237.55 L603.73 238.8 L604.69 240.05 L605.64 241.3 L606.59 242.55 L607.5 243.8 L608.37 245.05 L609.5 246.3 M609.5 216.3 L604.01 217.55 L602.1 218.8 L600.9 220.05 L600.13 221.3 L599.66 222.55 L599.44 223.8 L599.42 225.05 L599.58 226.3 L599.89 227.55 L600.32 228.8 L600.87 230.05 L601.52 231.3 L602.24 232.55 L603.03 233.8 L603.86 235.05 L604.73 236.3 L605.6 237.55 L606.46 238.8 L607.3 240.05 L608.08 241.3 L608.77 242.55 L609.34 243.8 L609.71 245.05 L609.5 246.3 M609.5 216.3 L604.69 217.55 L603.12 218.8 L602.22 220.05 L601.72 221.3 L601.51 222.55 L601.52 223.8 L601.72 225.05 L602.07 226.3 L602.55 227.55 L603.13 228.8 L603.81 230.05 L604.55 231.3 L605.33 232.55 L606.15 233.8 L606.98 235.05 L607.81 236.3 L608.6 237.55 L609.35 238.8 L610.02 240.05 L610.58 241.3 L610.99 242.55 L611.19 243.8 L611.04 245.05 L609.5 246.3 M609.5 216.3 L605.6 217.55 L604.46 218.8 L603.9 220.05 L603.7 221.3 L603.75 222.55 L604 223.8 L604.4 225.05 L604.93 226.3 L605.56 227.55 L606.26 228.8 L607.02 230.05 L607.82 231.3 L608.63 232.55 L609.44 233.8 L610.23 235.05 L610.97 236.3 L611.65 237.55 L612.24 238.8 L612.71 240.05 L613.03 241.3 L613.14 242.55 L612.95 243.8 L612.29 245.05 L609.5 246.3 M609.5 216.3 L606.71 217.55 L606.05 218.8 L605.86 220.05 L605.97 221.3 L606.29 222.55 L606.76 223.8 L607.35 225.05 L608.03 226.3 L608.77 227.55 L609.56 228.8 L610.37 230.05 L611.18 231.3 L611.98 232.55 L612.74 233.8 L613.44 235.05 L614.07 236.3 L614.6 237.55 L615 238.8 L615.25 240.05 L615.3 241.3 L615.1 242.55 L614.54 243.8 L613.4 245.05 L609.5 246.3 M609.5 216.3 L607.96 217.55 L607.81 218.8 L608.01 220.05 L608.42 221.3 L608.98 222.55 L609.65 223.8 L610.4 225.05 L611.19 226.3 L612.02 227.55 L612.85 228.8 L613.67 230.05 L614.45 231.3 L615.19 232.55 L615.87 233.8 L616.45 235.05 L616.93 236.3 L617.28 237.55 L617.48 238.8 L617.49 240.05 L617.28 241.3 L616.78 242.55 L615.88 243.8 L614.31 245.05 L609.5 246.3 M609.5 216.3 L609.29 217.55 L609.66 218.8 L610.23 220.05 L610.92 221.3 L611.7 222.55 L612.54 223.8 L613.4 225.05 L614.27 226.3 L615.14 227.55 L615.97 228.8 L616.76 230.05 L617.48 231.3 L618.13 232.55 L618.68 233.8 L619.11 235.05 L619.42 236.3 L619.58 237.55 L619.56 238.8 L619.34 240.05 L618.87 241.3 L618.1 242.55 L616.9 243.8 L614.99 245.05 L609.5 246.3 M609.5 216.3 L610.63 217.55 L611.5 218.8 L612.41 220.05 L613.36 221.3 L614.31 222.55 L615.27 223.8 L616.21 225.05 L617.12 226.3 L617.97 227.55 L618.77 228.8 L619.48 230.05 L620.11 231.3 L620.63 232.55 L621.03 233.8 L621.3 235.05 L621.42 236.3 L621.37 237.55 L621.14 238.8 L620.69 240.05 L619.99 241.3 L618.98 242.55 L617.55 243.8 L615.39 245.05 L609.5 246.3 M609.5 216.3 L611.91 217.55 L613.24 218.8 L614.45 220.05 L615.59 221.3 L616.68 222.55 L617.72 223.8 L618.68 225.05 L619.58 226.3 L620.39 227.55 L621.1 228.8 L621.71 230.05 L622.2 231.3 L622.57 232.55 L622.8 233.8 L622.89 235.05 L622.81 236.3 L622.57 237.55 L622.13 238.8 L621.48 240.05 L620.59 241.3 L619.39 242.55 L617.79 243.8 L615.49 245.05 L609.5 246.3 M609.5 216.3 L613.07 217.55 L614.79 218.8 L616.24 220.05 L617.53 221.3 L618.69 222.55 L619.75 223.8 L620.7 225.05 L621.53 226.3 L622.25 227.55 L622.85 228.8 L623.32 230.05 L623.66 231.3 L623.86 232.55 L623.91 233.8 L623.8 235.05 L623.54 236.3 L623.11 237.55 L622.49 238.8 L621.67 240.05 L620.63 241.3 L619.31 242.55 L617.62 243.8 L615.29 245.05 L609.5 246.3 M609.5 216.3 L614.05 217.55 L616.08 218.8 L617.69 220.05 L619.06 221.3 L620.24 222.55 L621.27 223.8 L622.15 225.05 L622.88 226.3 L623.48 227.55 L623.93 228.8 L624.24 230.05 L624.41 231.3 L624.42 232.55 L624.29 233.8 L624.01 235.05 L623.57 236.3 L622.96 237.55 L622.2 238.8 L621.25 240.05 L620.11 241.3 L618.73 242.55 L617.04 243.8 L614.81 245.05 L609.5 246.3"/></g>
<g stroke="#e455ad" stroke-width="0.42" fill="none" opacity="0.8"><circle cx="609.5" cy="347.6" r="15"/><path d="M609.5 332.6 L604.95 333.85 L602.92 335.1 L601.31 336.35 L599.94 337.6 L598.76 338.85 L597.73 340.1 L596.85 341.35 L596.12 342.6 L595.52 343.85 L595.07 345.1 L594.76 346.35 L594.59 347.6 L594.58 348.85 L594.71 350.1 L594.99 351.35 L595.43 352.6 L596.04 353.85 L596.8 355.1 L597.75 356.35 L598.89 357.6 L600.27 358.85 L601.96 360.1 L604.19 361.35 L609.5 362.6 M609.5 332.6 L605.93 333.85 L604.21 335.1 L602.76 336.35 L601.47 337.6 L600.31 338.85 L599.25 340.1 L598.3 341.35 L597.47 342.6 L596.75 343.85 L596.15 345.1 L595.68 346.35 L595.34 347.6 L595.14 348.85 L595.09 350.1 L595.2 351.35 L595.46 352.6 L595.89 353.85 L596.51 355.1 L597.33 356.35 L598.37 357.6 L599.69 358.85 L601.38 360.1 L603.71 361.35 L609.5 362.6 M609.5 332.6 L607.09 333.85 L605.76 335.1 L604.55 336.35 L603.41 337.6 L602.32 338.85 L601.28 340.1 L600.32 341.35 L599.42 342.6 L598.61 343.85 L597.9 345.1 L597.29 346.35 L596.8 347.6 L596.43 348.85 L596.2 350.1 L596.11 351.35 L596.19 352.6 L596.43 353.85 L596.87 355.1 L597.52 356.35 L598.41 357.6 L599.61 358.85 L601.21 360.1 L603.51 361.35 L609.5 362.6 M609.5 332.6 L608.37 333.85 L607.5 335.1 L606.59 336.35 L605.64 337.6 L604.69 338.85 L603.73 340.1 L602.79 341.35 L601.88 342.6 L601.03 343.85 L600.23 345.1 L599.52 346.35 L598.89 347.6 L598.37 348.85 L597.97 350.1 L597.7 351.35 L597.58 352.6 L597.63 353.85 L597.86 355.1 L598.31 356.35 L599.01 357.6 L600.02 358.85 L601.45 360.1 L603.61 361.35 L609.5 362.6 M609.5 332.6 L609.71 333.85 L609.34 335.1 L608.77 336.35 L608.08 337.6 L607.3 338.85 L606.46 340.1 L605.6 341.35 L604.73 342.6 L603.86 343.85 L603.03 345.1 L602.24 346.35 L601.52 347.6 L600.87 348.85 L600.32 350.1 L599.89 351.35 L599.58 352.6 L599.42 353.85 L599.44 355.1 L599.66 356.35 L600.13 357.6 L600.9 358.85 L602.1 360.1 L604.01 361.35 L609.5 362.6 M609.5 332.6 L611.04 333.85 L611.19 335.1 L610.99 336.35 L610.58 337.6 L610.02 338.85 L609.35 340.1 L608.6 341.35 L607.81 342.6 L606.98 343.85 L606.15 345.1 L605.33 346.35 L604.55 347.6 L603.81 348.85 L603.13 350.1 L602.55 351.35 L602.07 352.6 L601.72 353.85 L601.52 355.1 L601.51 356.35 L601.72 357.6 L602.22 358.85 L603.12 360.1 L604.69 361.35 L609.5 362.6 M609.5 332.6 L612.29 333.85 L612.95 335.1 L613.14 336.35 L613.03 337.6 L612.71 338.85 L612.24 340.1 L611.65 341.35 L610.97 342.6 L610.23 343.85 L609.44 345.1 L608.63 346.35 L607.82 347.6 L607.02 348.85 L606.26 350.1 L605.56 351.35 L604.93 352.6 L604.4 353.85 L604 355.1 L603.75 356.35 L603.7 357.6 L603.9 358.85 L604.46 360.1 L605.6 361.35 L609.5 362.6 M609.5 332.6 L613.4 333.85 L614.54 335.1 L615.1 336.35 L615.3 337.6 L615.25 338.85 L615 340.1 L614.6 341.35 L614.07 342.6 L613.44 343.85 L612.74 345.1 L611.98 346.35 L611.18 347.6 L610.37 348.85 L609.56 350.1 L608.77 351.35 L608.03 352.6 L607.35 353.85 L606.76 355.1 L606.29 356.35 L605.97 357.6 L605.86 358.85 L606.05 360.1 L606.71 361.35 L609.5 362.6 M609.5 332.6 L614.31 333.85 L615.88 335.1 L616.78 336.35 L617.28 337.6 L617.49 338.85 L617.48 340.1 L617.28 341.35 L616.93 342.6 L616.45 343.85 L615.87 345.1 L615.19 346.35 L614.45 347.6 L613.67 348.85 L612.85 350.1 L612.02 351.35 L611.19 352.6 L610.4 353.85 L609.65 355.1 L608.98 356.35 L608.42 357.6 L608.01 358.85 L607.81 360.1 L607.96 361.35 L609.5 362.6 M609.5 332.6 L614.99 333.85 L616.9 335.1 L618.1 336.35 L618.87 337.6 L619.34 338.85 L619.56 340.1 L619.58 341.35 L619.42 342.6 L619.11 343.85 L618.68 345.1 L618.13 346.35 L617.48 347.6 L616.76 348.85 L615.97 350.1 L615.14 351.35 L614.27 352.6 L613.4 353.85 L612.54 355.1 L611.7 356.35 L610.92 357.6 L610.23 358.85 L609.66 360.1 L609.29 361.35 L609.5 362.6 M609.5 332.6 L615.39 333.85 L617.55 335.1 L618.98 336.35 L619.99 337.6 L620.69 338.85 L621.14 340.1 L621.37 341.35 L621.42 342.6 L621.3 343.85 L621.03 345.1 L620.63 346.35 L620.11 347.6 L619.48 348.85 L618.77 350.1 L617.97 351.35 L617.12 352.6 L616.21 353.85 L615.27 355.1 L614.31 356.35 L613.36 357.6 L612.41 358.85 L611.5 360.1 L610.63 361.35 L609.5 362.6 M609.5 332.6 L615.49 333.85 L617.79 335.1 L619.39 336.35 L620.59 337.6 L621.48 338.85 L622.13 340.1 L622.57 341.35 L622.81 342.6 L622.89 343.85 L622.8 345.1 L622.57 346.35 L622.2 347.6 L621.71 348.85 L621.1 350.1 L620.39 351.35 L619.58 352.6 L618.68 353.85 L617.72 355.1 L616.68 356.35 L615.59 357.6 L614.45 358.85 L613.24 360.1 L611.91 361.35 L609.5 362.6 M609.5 332.6 L615.29 333.85 L617.62 335.1 L619.31 336.35 L620.63 337.6 L621.67 338.85 L622.49 340.1 L623.11 341.35 L623.54 342.6 L623.8 343.85 L623.91 345.1 L623.86 346.35 L623.66 347.6 L623.32 348.85 L622.85 350.1 L622.25 351.35 L621.53 352.6 L620.7 353.85 L619.75 355.1 L618.69 356.35 L617.53 357.6 L616.24 358.85 L614.79 360.1 L613.07 361.35 L609.5 362.6 M609.5 332.6 L614.81 333.85 L617.04 335.1 L618.73 336.35 L620.11 337.6 L621.25 338.85 L622.2 340.1 L622.96 341.35 L623.57 342.6 L624.01 343.85 L624.29 345.1 L624.42 346.35 L624.41 347.6 L624.24 348.85 L623.93 350.1 L623.48 351.35 L622.88 352.6 L622.15 353.85 L621.27 355.1 L620.24 356.35 L619.06 357.6 L617.69 358.85 L616.08 360.1 L614.05 361.35 L609.5 362.6"/></g>
<g stroke="#e455ad" stroke-width="0.42" fill="none" opacity="0.8"><circle cx="445.1" cy="281" r="15"/><path d="M430.1 281 L431.35 275.69 L432.6 273.46 L433.85 271.77 L435.1 270.39 L436.35 269.25 L437.6 268.3 L438.85 267.54 L440.1 266.93 L441.35 266.49 L442.6 266.21 L443.85 266.08 L445.1 266.09 L446.35 266.26 L447.6 266.57 L448.85 267.02 L450.1 267.62 L451.35 268.35 L452.6 269.23 L453.85 270.26 L455.1 271.44 L456.35 272.81 L457.6 274.42 L458.85 276.45 L460.1 281 M430.1 281 L431.35 275.21 L432.6 272.88 L433.85 271.19 L435.1 269.87 L436.35 268.83 L437.6 268.01 L438.85 267.39 L440.1 266.96 L441.35 266.7 L442.6 266.59 L443.85 266.64 L445.1 266.84 L446.35 267.18 L447.6 267.65 L448.85 268.25 L450.1 268.97 L451.35 269.8 L452.6 270.75 L453.85 271.81 L455.1 272.97 L456.35 274.26 L457.6 275.71 L458.85 277.43 L460.1 281 M430.1 281 L431.35 275.01 L432.6 272.71 L433.85 271.11 L435.1 269.91 L436.35 269.02 L437.6 268.37 L438.85 267.93 L440.1 267.69 L441.35 267.61 L442.6 267.7 L443.85 267.93 L445.1 268.3 L446.35 268.79 L447.6 269.4 L448.85 270.11 L450.1 270.92 L451.35 271.82 L452.6 272.78 L453.85 273.82 L455.1 274.91 L456.35 276.05 L457.6 277.26 L458.85 278.59 L460.1 281 M430.1 281 L431.35 275.11 L432.6 272.95 L433.85 271.52 L435.1 270.51 L436.35 269.81 L437.6 269.36 L438.85 269.13 L440.1 269.08 L441.35 269.2 L442.6 269.47 L443.85 269.87 L445.1 270.39 L446.35 271.02 L447.6 271.73 L448.85 272.53 L450.1 273.38 L451.35 274.29 L452.6 275.23 L453.85 276.19 L455.1 277.14 L456.35 278.09 L457.6 279 L458.85 279.87 L460.1 281 M430.1 281 L431.35 275.51 L432.6 273.6 L433.85 272.4 L435.1 271.63 L436.35 271.16 L437.6 270.94 L438.85 270.92 L440.1 271.08 L441.35 271.39 L442.6 271.82 L443.85 272.37 L445.1 273.02 L446.35 273.74 L447.6 274.53 L448.85 275.36 L450.1 276.23 L451.35 277.1 L452.6 277.96 L453.85 278.8 L455.1 279.58 L456.35 280.27 L457.6 280.84 L458.85 281.21 L460.1 281 M430.1 281 L431.35 276.19 L432.6 274.62 L433.85 273.72 L435.1 273.22 L436.35 273.01 L437.6 273.02 L438.85 273.22 L440.1 273.57 L441.35 274.05 L442.6 274.63 L443.85 275.31 L445.1 276.05 L446.35 276.83 L447.6 277.65 L448.85 278.48 L450.1 279.31 L451.35 280.1 L452.6 280.85 L453.85 281.52 L455.1 282.08 L456.35 282.49 L457.6 282.69 L458.85 282.54 L460.1 281 M430.1 281 L431.35 277.1 L432.6 275.96 L433.85 275.4 L435.1 275.2 L436.35 275.25 L437.6 275.5 L438.85 275.9 L440.1 276.43 L441.35 277.06 L442.6 277.76 L443.85 278.52 L445.1 279.32 L446.35 280.13 L447.6 280.94 L448.85 281.73 L450.1 282.47 L451.35 283.15 L452.6 283.74 L453.85 284.21 L455.1 284.53 L456.35 284.64 L457.6 284.45 L458.85 283.79 L460.1 281 M430.1 281 L431.35 278.21 L432.6 277.55 L433.85 277.36 L435.1 277.47 L436.35 277.79 L437.6 278.26 L438.85 278.85 L440.1 279.53 L441.35 280.27 L442.6 281.06 L443.85 281.87 L445.1 282.68 L446.35 283.48 L447.6 284.24 L448.85 284.94 L450.1 285.57 L451.35 286.1 L452.6 286.5 L453.85 286.75 L455.1 286.8 L456.35 286.6 L457.6 286.04 L458.85 284.9 L460.1 281 M430.1 281 L431.35 279.46 L432.6 279.31 L433.85 279.51 L435.1 279.92 L436.35 280.48 L437.6 281.15 L438.85 281.9 L440.1 282.69 L441.35 283.52 L442.6 284.35 L443.85 285.17 L445.1 285.95 L446.35 286.69 L447.6 287.37 L448.85 287.95 L450.1 288.43 L451.35 288.78 L452.6 288.98 L453.85 288.99 L455.1 288.78 L456.35 288.28 L457.6 287.38 L458.85 285.81 L460.1 281 M430.1 281 L431.35 280.79 L432.6 281.16 L433.85 281.73 L435.1 282.42 L436.35 283.2 L437.6 284.04 L438.85 284.9 L440.1 285.77 L441.35 286.64 L442.6 287.47 L443.85 288.26 L445.1 288.98 L446.35 289.63 L447.6 290.18 L448.85 290.61 L450.1 290.92 L451.35 291.08 L452.6 291.06 L453.85 290.84 L455.1 290.37 L456.35 289.6 L457.6 288.4 L458.85 286.49 L460.1 281 M430.1 281 L431.35 282.13 L432.6 283 L433.85 283.91 L435.1 284.86 L436.35 285.81 L437.6 286.77 L438.85 287.71 L440.1 288.62 L441.35 289.47 L442.6 290.27 L443.85 290.98 L445.1 291.61 L446.35 292.13 L447.6 292.53 L448.85 292.8 L450.1 292.92 L451.35 292.87 L452.6 292.64 L453.85 292.19 L455.1 291.49 L456.35 290.48 L457.6 289.05 L458.85 286.89 L460.1 281 M430.1 281 L431.35 283.41 L432.6 284.74 L433.85 285.95 L435.1 287.09 L436.35 288.18 L437.6 289.22 L438.85 290.18 L440.1 291.08 L441.35 291.89 L442.6 292.6 L443.85 293.21 L445.1 293.7 L446.35 294.07 L447.6 294.3 L448.85 294.39 L450.1 294.31 L451.35 294.07 L452.6 293.63 L453.85 292.98 L455.1 292.09 L456.35 290.89 L457.6 289.29 L458.85 286.99 L460.1 281 M430.1 281 L431.35 284.57 L432.6 286.29 L433.85 287.74 L435.1 289.03 L436.35 290.19 L437.6 291.25 L438.85 292.2 L440.1 293.03 L441.35 293.75 L442.6 294.35 L443.85 294.82 L445.1 295.16 L446.35 295.36 L447.6 295.41 L448.85 295.3 L450.1 295.04 L451.35 294.61 L452.6 293.99 L453.85 293.17 L455.1 292.13 L456.35 290.81 L457.6 289.12 L458.85 286.79 L460.1 281 M430.1 281 L431.35 285.55 L432.6 287.58 L433.85 289.19 L435.1 290.56 L436.35 291.74 L437.6 292.77 L438.85 293.65 L440.1 294.38 L441.35 294.98 L442.6 295.43 L443.85 295.74 L445.1 295.91 L446.35 295.92 L447.6 295.79 L448.85 295.51 L450.1 295.07 L451.35 294.46 L452.6 293.7 L453.85 292.75 L455.1 291.61 L456.35 290.23 L457.6 288.54 L458.85 286.31 L460.1 281"/></g>
<g stroke="#e455ad" stroke-width="0.42" fill="none" opacity="0.8"><circle cx="667.4" cy="281" r="15"/><path d="M652.4 281 L653.65 276.45 L654.9 274.42 L656.15 272.81 L657.4 271.44 L658.65 270.26 L659.9 269.23 L661.15 268.35 L662.4 267.62 L663.65 267.02 L664.9 266.57 L666.15 266.26 L667.4 266.09 L668.65 266.08 L669.9 266.21 L671.15 266.49 L672.4 266.93 L673.65 267.54 L674.9 268.3 L676.15 269.25 L677.4 270.39 L678.65 271.77 L679.9 273.46 L681.15 275.69 L682.4 281 M652.4 281 L653.65 277.43 L654.9 275.71 L656.15 274.26 L657.4 272.97 L658.65 271.81 L659.9 270.75 L661.15 269.8 L662.4 268.97 L663.65 268.25 L664.9 267.65 L666.15 267.18 L667.4 266.84 L668.65 266.64 L669.9 266.59 L671.15 266.7 L672.4 266.96 L673.65 267.39 L674.9 268.01 L676.15 268.83 L677.4 269.87 L678.65 271.19 L679.9 272.88 L681.15 275.21 L682.4 281 M652.4 281 L653.65 278.59 L654.9 277.26 L656.15 276.05 L657.4 274.91 L658.65 273.82 L659.9 272.78 L661.15 271.82 L662.4 270.92 L663.65 270.11 L664.9 269.4 L666.15 268.79 L667.4 268.3 L668.65 267.93 L669.9 267.7 L671.15 267.61 L672.4 267.69 L673.65 267.93 L674.9 268.37 L676.15 269.02 L677.4 269.91 L678.65 271.11 L679.9 272.71 L681.15 275.01 L682.4 281 M652.4 281 L653.65 279.87 L654.9 279 L656.15 278.09 L657.4 277.14 L658.65 276.19 L659.9 275.23 L661.15 274.29 L662.4 273.38 L663.65 272.53 L664.9 271.73 L666.15 271.02 L667.4 270.39 L668.65 269.87 L669.9 269.47 L671.15 269.2 L672.4 269.08 L673.65 269.13 L674.9 269.36 L676.15 269.81 L677.4 270.51 L678.65 271.52 L679.9 272.95 L681.15 275.11 L682.4 281 M652.4 281 L653.65 281.21 L654.9 280.84 L656.15 280.27 L657.4 279.58 L658.65 278.8 L659.9 277.96 L661.15 277.1 L662.4 276.23 L663.65 275.36 L664.9 274.53 L666.15 273.74 L667.4 273.02 L668.65 272.37 L669.9 271.82 L671.15 271.39 L672.4 271.08 L673.65 270.92 L674.9 270.94 L676.15 271.16 L677.4 271.63 L678.65 272.4 L679.9 273.6 L681.15 275.51 L682.4 281 M652.4 281 L653.65 282.54 L654.9 282.69 L656.15 282.49 L657.4 282.08 L658.65 281.52 L659.9 280.85 L661.15 280.1 L662.4 279.31 L663.65 278.48 L664.9 277.65 L666.15 276.83 L667.4 276.05 L668.65 275.31 L669.9 274.63 L671.15 274.05 L672.4 273.57 L673.65 273.22 L674.9 273.02 L676.15 273.01 L677.4 273.22 L678.65 273.72 L679.9 274.62 L681.15 276.19 L682.4 281 M652.4 281 L653.65 283.79 L654.9 284.45 L656.15 284.64 L657.4 284.53 L658.65 284.21 L659.9 283.74 L661.15 283.15 L662.4 282.47 L663.65 281.73 L664.9 280.94 L666.15 280.13 L667.4 279.32 L668.65 278.52 L669.9 277.76 L671.15 277.06 L672.4 276.43 L673.65 275.9 L674.9 275.5 L676.15 275.25 L677.4 275.2 L678.65 275.4 L679.9 275.96 L681.15 277.1 L682.4 281 M652.4 281 L653.65 284.9 L654.9 286.04 L656.15 286.6 L657.4 286.8 L658.65 286.75 L659.9 286.5 L661.15 286.1 L662.4 285.57 L663.65 284.94 L664.9 284.24 L666.15 283.48 L667.4 282.68 L668.65 281.87 L669.9 281.06 L671.15 280.27 L672.4 279.53 L673.65 278.85 L674.9 278.26 L676.15 277.79 L677.4 277.47 L678.65 277.36 L679.9 277.55 L681.15 278.21 L682.4 281 M652.4 281 L653.65 285.81 L654.9 287.38 L656.15 288.28 L657.4 288.78 L658.65 288.99 L659.9 288.98 L661.15 288.78 L662.4 288.43 L663.65 287.95 L664.9 287.37 L666.15 286.69 L667.4 285.95 L668.65 285.17 L669.9 284.35 L671.15 283.52 L672.4 282.69 L673.65 281.9 L674.9 281.15 L676.15 280.48 L677.4 279.92 L678.65 279.51 L679.9 279.31 L681.15 279.46 L682.4 281 M652.4 281 L653.65 286.49 L654.9 288.4 L656.15 289.6 L657.4 290.37 L658.65 290.84 L659.9 291.06 L661.15 291.08 L662.4 290.92 L663.65 290.61 L664.9 290.18 L666.15 289.63 L667.4 288.98 L668.65 288.26 L669.9 287.47 L671.15 286.64 L672.4 285.77 L673.65 284.9 L674.9 284.04 L676.15 283.2 L677.4 282.42 L678.65 281.73 L679.9 281.16 L681.15 280.79 L682.4 281 M652.4 281 L653.65 286.89 L654.9 289.05 L656.15 290.48 L657.4 291.49 L658.65 292.19 L659.9 292.64 L661.15 292.87 L662.4 292.92 L663.65 292.8 L664.9 292.53 L666.15 292.13 L667.4 291.61 L668.65 290.98 L669.9 290.27 L671.15 289.47 L672.4 288.62 L673.65 287.71 L674.9 286.77 L676.15 285.81 L677.4 284.86 L678.65 283.91 L679.9 283 L681.15 282.13 L682.4 281 M652.4 281 L653.65 286.99 L654.9 289.29 L656.15 290.89 L657.4 292.09 L658.65 292.98 L659.9 293.63 L661.15 294.07 L662.4 294.31 L663.65 294.39 L664.9 294.3 L666.15 294.07 L667.4 293.7 L668.65 293.21 L669.9 292.6 L671.15 291.89 L672.4 291.08 L673.65 290.18 L674.9 289.22 L676.15 288.18 L677.4 287.09 L678.65 285.95 L679.9 284.74 L681.15 283.41 L682.4 281 M652.4 281 L653.65 286.79 L654.9 289.12 L656.15 290.81 L657.4 292.13 L658.65 293.17 L659.9 293.99 L661.15 294.61 L662.4 295.04 L663.65 295.3 L664.9 295.41 L666.15 295.36 L667.4 295.16 L668.65 294.82 L669.9 294.35 L671.15 293.75 L672.4 293.03 L673.65 292.2 L674.9 291.25 L676.15 290.19 L677.4 289.03 L678.65 287.74 L679.9 286.29 L681.15 284.57 L682.4 281 M652.4 281 L653.65 286.31 L654.9 288.54 L656.15 290.23 L657.4 291.61 L658.65 292.75 L659.9 293.7 L661.15 294.46 L662.4 295.07 L663.65 295.51 L664.9 295.79 L666.15 295.92 L667.4 295.91 L668.65 295.74 L669.9 295.43 L671.15 294.98 L672.4 294.38 L673.65 293.65 L674.9 292.77 L676.15 291.74 L677.4 290.56 L678.65 289.19 L679.9 287.58 L681.15 285.55 L682.4 281"/></g>
<g stroke="#e455ad" stroke-width="0.42" fill="none" opacity="0.8"><circle cx="445.1" cy="297" r="15"/><path d="M430.1 297 L431.35 291.69 L432.6 289.46 L433.85 287.77 L435.1 286.39 L436.35 285.25 L437.6 284.3 L438.85 283.54 L440.1 282.93 L441.35 282.49 L442.6 282.21 L443.85 282.08 L445.1 282.09 L446.35 282.26 L447.6 282.57 L448.85 283.02 L450.1 283.62 L451.35 284.35 L452.6 285.23 L453.85 286.26 L455.1 287.44 L456.35 288.81 L457.6 290.42 L458.85 292.45 L460.1 297 M430.1 297 L431.35 291.21 L432.6 288.88 L433.85 287.19 L435.1 285.87 L436.35 284.83 L437.6 284.01 L438.85 283.39 L440.1 282.96 L441.35 282.7 L442.6 282.59 L443.85 282.64 L445.1 282.84 L446.35 283.18 L447.6 283.65 L448.85 284.25 L450.1 284.97 L451.35 285.8 L452.6 286.75 L453.85 287.81 L455.1 288.97 L456.35 290.26 L457.6 291.71 L458.85 293.43 L460.1 297 M430.1 297 L431.35 291.01 L432.6 288.71 L433.85 287.11 L435.1 285.91 L436.35 285.02 L437.6 284.37 L438.85 283.93 L440.1 283.69 L441.35 283.61 L442.6 283.7 L443.85 283.93 L445.1 284.3 L446.35 284.79 L447.6 285.4 L448.85 286.11 L450.1 286.92 L451.35 287.82 L452.6 288.78 L453.85 289.82 L455.1 290.91 L456.35 292.05 L457.6 293.26 L458.85 294.59 L460.1 297 M430.1 297 L431.35 291.11 L432.6 288.95 L433.85 287.52 L435.1 286.51 L436.35 285.81 L437.6 285.36 L438.85 285.13 L440.1 285.08 L441.35 285.2 L442.6 285.47 L443.85 285.87 L445.1 286.39 L446.35 287.02 L447.6 287.73 L448.85 288.53 L450.1 289.38 L451.35 290.29 L452.6 291.23 L453.85 292.19 L455.1 293.14 L456.35 294.09 L457.6 295 L458.85 295.87 L460.1 297 M430.1 297 L431.35 291.51 L432.6 289.6 L433.85 288.4 L435.1 287.63 L436.35 287.16 L437.6 286.94 L438.85 286.92 L440.1 287.08 L441.35 287.39 L442.6 287.82 L443.85 288.37 L445.1 289.02 L446.35 289.74 L447.6 290.53 L448.85 291.36 L450.1 292.23 L451.35 293.1 L452.6 293.96 L453.85 294.8 L455.1 295.58 L456.35 296.27 L457.6 296.84 L458.85 297.21 L460.1 297 M430.1 297 L431.35 292.19 L432.6 290.62 L433.85 289.72 L435.1 289.22 L436.35 289.01 L437.6 289.02 L438.85 289.22 L440.1 289.57 L441.35 290.05 L442.6 290.63 L443.85 291.31 L445.1 292.05 L446.35 292.83 L447.6 293.65 L448.85 294.48 L450.1 295.31 L451.35 296.1 L452.6 296.85 L453.85 297.52 L455.1 298.08 L456.35 298.49 L457.6 298.69 L458.85 298.54 L460.1 297 M430.1 297 L431.35 293.1 L432.6 291.96 L433.85 291.4 L435.1 291.2 L436.35 291.25 L437.6 291.5 L438.85 291.9 L440.1 292.43 L441.35 293.06 L442.6 293.76 L443.85 294.52 L445.1 295.32 L446.35 296.13 L447.6 296.94 L448.85 297.73 L450.1 298.47 L451.35 299.15 L452.6 299.74 L453.85 300.21 L455.1 300.53 L456.35 300.64 L457.6 300.45 L458.85 299.79 L460.1 297 M430.1 297 L431.35 294.21 L432.6 293.55 L433.85 293.36 L435.1 293.47 L436.35 293.79 L437.6 294.26 L438.85 294.85 L440.1 295.53 L441.35 296.27 L442.6 297.06 L443.85 297.87 L445.1 298.68 L446.35 299.48 L447.6 300.24 L448.85 300.94 L450.1 301.57 L451.35 302.1 L452.6 302.5 L453.85 302.75 L455.1 302.8 L456.35 302.6 L457.6 302.04 L458.85 300.9 L460.1 297 M430.1 297 L431.35 295.46 L432.6 295.31 L433.85 295.51 L435.1 295.92 L436.35 296.48 L437.6 297.15 L438.85 297.9 L440.1 298.69 L441.35 299.52 L442.6 300.35 L443.85 301.17 L445.1 301.95 L446.35 302.69 L447.6 303.37 L448.85 303.95 L450.1 304.43 L451.35 304.78 L452.6 304.98 L453.85 304.99 L455.1 304.78 L456.35 304.28 L457.6 303.38 L458.85 301.81 L460.1 297 M430.1 297 L431.35 296.79 L432.6 297.16 L433.85 297.73 L435.1 298.42 L436.35 299.2 L437.6 300.04 L438.85 300.9 L440.1 301.77 L441.35 302.64 L442.6 303.47 L443.85 304.26 L445.1 304.98 L446.35 305.63 L447.6 306.18 L448.85 306.61 L450.1 306.92 L451.35 307.08 L452.6 307.06 L453.85 306.84 L455.1 306.37 L456.35 305.6 L457.6 304.4 L458.85 302.49 L460.1 297 M430.1 297 L431.35 298.13 L432.6 299 L433.85 299.91 L435.1 300.86 L436.35 301.81 L437.6 302.77 L438.85 303.71 L440.1 304.62 L441.35 305.47 L442.6 306.27 L443.85 306.98 L445.1 307.61 L446.35 308.13 L447.6 308.53 L448.85 308.8 L450.1 308.92 L451.35 308.87 L452.6 308.64 L453.85 308.19 L455.1 307.49 L456.35 306.48 L457.6 305.05 L458.85 302.89 L460.1 297 M430.1 297 L431.35 299.41 L432.6 300.74 L433.85 301.95 L435.1 303.09 L436.35 304.18 L437.6 305.22 L438.85 306.18 L440.1 307.08 L441.35 307.89 L442.6 308.6 L443.85 309.21 L445.1 309.7 L446.35 310.07 L447.6 310.3 L448.85 310.39 L450.1 310.31 L451.35 310.07 L452.6 309.63 L453.85 308.98 L455.1 308.09 L456.35 306.89 L457.6 305.29 L458.85 302.99 L460.1 297 M430.1 297 L431.35 300.57 L432.6 302.29 L433.85 303.74 L435.1 305.03 L436.35 306.19 L437.6 307.25 L438.85 308.2 L440.1 309.03 L441.35 309.75 L442.6 310.35 L443.85 310.82 L445.1 311.16 L446.35 311.36 L447.6 311.41 L448.85 311.3 L450.1 311.04 L451.35 310.61 L452.6 309.99 L453.85 309.17 L455.1 308.13 L456.35 306.81 L457.6 305.12 L458.85 302.79 L460.1 297 M430.1 297 L431.35 301.55 L432.6 303.58 L433.85 305.19 L435.1 306.56 L436.35 307.74 L437.6 308.77 L438.85 309.65 L440.1 310.38 L441.35 310.98 L442.6 311.43 L443.85 311.74 L445.1 311.91 L446.35 311.92 L447.6 311.79 L448.85 311.51 L450.1 311.07 L451.35 310.46 L452.6 309.7 L453.85 308.75 L455.1 307.61 L456.35 306.23 L457.6 304.54 L458.85 302.31 L460.1 297"/></g>
<g stroke="#e455ad" stroke-width="0.42" fill="none" opacity="0.8"><circle cx="667.4" cy="297" r="15"/><path d="M652.4 297 L653.65 292.45 L654.9 290.42 L656.15 288.81 L657.4 287.44 L658.65 286.26 L659.9 285.23 L661.15 284.35 L662.4 283.62 L663.65 283.02 L664.9 282.57 L666.15 282.26 L667.4 282.09 L668.65 282.08 L669.9 282.21 L671.15 282.49 L672.4 282.93 L673.65 283.54 L674.9 284.3 L676.15 285.25 L677.4 286.39 L678.65 287.77 L679.9 289.46 L681.15 291.69 L682.4 297 M652.4 297 L653.65 293.43 L654.9 291.71 L656.15 290.26 L657.4 288.97 L658.65 287.81 L659.9 286.75 L661.15 285.8 L662.4 284.97 L663.65 284.25 L664.9 283.65 L666.15 283.18 L667.4 282.84 L668.65 282.64 L669.9 282.59 L671.15 282.7 L672.4 282.96 L673.65 283.39 L674.9 284.01 L676.15 284.83 L677.4 285.87 L678.65 287.19 L679.9 288.88 L681.15 291.21 L682.4 297 M652.4 297 L653.65 294.59 L654.9 293.26 L656.15 292.05 L657.4 290.91 L658.65 289.82 L659.9 288.78 L661.15 287.82 L662.4 286.92 L663.65 286.11 L664.9 285.4 L666.15 284.79 L667.4 284.3 L668.65 283.93 L669.9 283.7 L671.15 283.61 L672.4 283.69 L673.65 283.93 L674.9 284.37 L676.15 285.02 L677.4 285.91 L678.65 287.11 L679.9 288.71 L681.15 291.01 L682.4 297 M652.4 297 L653.65 295.87 L654.9 295 L656.15 294.09 L657.4 293.14 L658.65 292.19 L659.9 291.23 L661.15 290.29 L662.4 289.38 L663.65 288.53 L664.9 287.73 L666.15 287.02 L667.4 286.39 L668.65 285.87 L669.9 285.47 L671.15 285.2 L672.4 285.08 L673.65 285.13 L674.9 285.36 L676.15 285.81 L677.4 286.51 L678.65 287.52 L679.9 288.95 L681.15 291.11 L682.4 297 M652.4 297 L653.65 297.21 L654.9 296.84 L656.15 296.27 L657.4 295.58 L658.65 294.8 L659.9 293.96 L661.15 293.1 L662.4 292.23 L663.65 291.36 L664.9 290.53 L666.15 289.74 L667.4 289.02 L668.65 288.37 L669.9 287.82 L671.15 287.39 L672.4 287.08 L673.65 286.92 L674.9 286.94 L676.15 287.16 L677.4 287.63 L678.65 288.4 L679.9 289.6 L681.15 291.51 L682.4 297 M652.4 297 L653.65 298.54 L654.9 298.69 L656.15 298.49 L657.4 298.08 L658.65 297.52 L659.9 296.85 L661.15 296.1 L662.4 295.31 L663.65 294.48 L664.9 293.65 L666.15 292.83 L667.4 292.05 L668.65 291.31 L669.9 290.63 L671.15 290.05 L672.4 289.57 L673.65 289.22 L674.9 289.02 L676.15 289.01 L677.4 289.22 L678.65 289.72 L679.9 290.62 L681.15 292.19 L682.4 297 M652.4 297 L653.65 299.79 L654.9 300.45 L656.15 300.64 L657.4 300.53 L658.65 300.21 L659.9 299.74 L661.15 299.15 L662.4 298.47 L663.65 297.73 L664.9 296.94 L666.15 296.13 L667.4 295.32 L668.65 294.52 L669.9 293.76 L671.15 293.06 L672.4 292.43 L673.65 291.9 L674.9 291.5 L676.15 291.25 L677.4 291.2 L678.65 291.4 L679.9 291.96 L681.15 293.1 L682.4 297 M652.4 297 L653.65 300.9 L654.9 302.04 L656.15 302.6 L657.4 302.8 L658.65 302.75 L659.9 302.5 L661.15 302.1 L662.4 301.57 L663.65 300.94 L664.9 300.24 L666.15 299.48 L667.4 298.68 L668.65 297.87 L669.9 297.06 L671.15 296.27 L672.4 295.53 L673.65 294.85 L674.9 294.26 L676.15 293.79 L677.4 293.47 L678.65 293.36 L679.9 293.55 L681.15 294.21 L682.4 297 M652.4 297 L653.65 301.81 L654.9 303.38 L656.15 304.28 L657.4 304.78 L658.65 304.99 L659.9 304.98 L661.15 304.78 L662.4 304.43 L663.65 303.95 L664.9 303.37 L666.15 302.69 L667.4 301.95 L668.65 301.17 L669.9 300.35 L671.15 299.52 L672.4 298.69 L673.65 297.9 L674.9 297.15 L676.15 296.48 L677.4 295.92 L678.65 295.51 L679.9 295.31 L681.15 295.46 L682.4 297 M652.4 297 L653.65 302.49 L654.9 304.4 L656.15 305.6 L657.4 306.37 L658.65 306.84 L659.9 307.06 L661.15 307.08 L662.4 306.92 L663.65 306.61 L664.9 306.18 L666.15 305.63 L667.4 304.98 L668.65 304.26 L669.9 303.47 L671.15 302.64 L672.4 301.77 L673.65 300.9 L674.9 300.04 L676.15 299.2 L677.4 298.42 L678.65 297.73 L679.9 297.16 L681.15 296.79 L682.4 297 M652.4 297 L653.65 302.89 L654.9 305.05 L656.15 306.48 L657.4 307.49 L658.65 308.19 L659.9 308.64 L661.15 308.87 L662.4 308.92 L663.65 308.8 L664.9 308.53 L666.15 308.13 L667.4 307.61 L668.65 306.98 L669.9 306.27 L671.15 305.47 L672.4 304.62 L673.65 303.71 L674.9 302.77 L676.15 301.81 L677.4 300.86 L678.65 299.91 L679.9 299 L681.15 298.13 L682.4 297 M652.4 297 L653.65 302.99 L654.9 305.29 L656.15 306.89 L657.4 308.09 L658.65 308.98 L659.9 309.63 L661.15 310.07 L662.4 310.31 L663.65 310.39 L664.9 310.3 L666.15 310.07 L667.4 309.7 L668.65 309.21 L669.9 308.6 L671.15 307.89 L672.4 307.08 L673.65 306.18 L674.9 305.22 L676.15 304.18 L677.4 303.09 L678.65 301.95 L679.9 300.74 L681.15 299.41 L682.4 297 M652.4 297 L653.65 302.79 L654.9 305.12 L656.15 306.81 L657.4 308.13 L658.65 309.17 L659.9 309.99 L661.15 310.61 L662.4 311.04 L663.65 311.3 L664.9 311.41 L666.15 311.36 L667.4 311.16 L668.65 310.82 L669.9 310.35 L671.15 309.75 L672.4 309.03 L673.65 308.2 L674.9 307.25 L676.15 306.19 L677.4 305.03 L678.65 303.74 L679.9 302.29 L681.15 300.57 L682.4 297 M652.4 297 L653.65 302.31 L654.9 304.54 L656.15 306.23 L657.4 307.61 L658.65 308.75 L659.9 309.7 L661.15 310.46 L662.4 311.07 L663.65 311.51 L664.9 311.79 L666.15 311.92 L667.4 311.91 L668.65 311.74 L669.9 311.43 L671.15 310.98 L672.4 310.38 L673.65 309.65 L674.9 308.77 L676.15 307.74 L677.4 306.56 L678.65 305.19 L679.9 303.58 L681.15 301.55 L682.4 297"/></g>
<rect x="497.5" y="246.6" width="13.3" height="1.9" stroke="#888" stroke-width="0.5" fill="#111" />
<rect x="497.5" y="331.5" width="13.3" height="1.8" stroke="#888" stroke-width="0.5" fill="#111" />
<rect x="512.5" y="246.6" width="13.9" height="1.9" stroke="#888" stroke-width="0.5" fill="#111" />
<rect x="512.5" y="331.5" width="13.9" height="1.8" stroke="#888" stroke-width="0.5" fill="#111" />
<rect x="586.4" y="246.6" width="13.6" height="1.9" stroke="#888" stroke-width="0.5" fill="#111" />
<rect x="586.4" y="331.5" width="13.6" height="1.8" stroke="#888" stroke-width="0.5" fill="#111" />
<rect x="602" y="246.6" width="14.4" height="1.9" stroke="#888" stroke-width="0.5" fill="#111" />
<rect x="602" y="331.5" width="14.4" height="1.8" stroke="#888" stroke-width="0.5" fill="#111" />
<circle cx="504.4" cy="251.8" r="2" stroke="#999" stroke-width="0.7" fill="none"/>
<circle cx="504.4" cy="327.4" r="2" stroke="#999" stroke-width="0.7" fill="none"/>
<line x1="504.4" y1="248.7" x2="504.4" y2="250" stroke="#4a4" stroke-width="1.2" />
<line x1="504.4" y1="329.3" x2="504.4" y2="331.3" stroke="#4a4" stroke-width="1.2" />
<circle cx="519.3" cy="251.8" r="2" stroke="#999" stroke-width="0.7" fill="none"/>
<circle cx="519.3" cy="327.4" r="2" stroke="#999" stroke-width="0.7" fill="none"/>
<line x1="519.3" y1="248.7" x2="519.3" y2="250" stroke="#4a4" stroke-width="1.2" />
<line x1="519.3" y1="329.3" x2="519.3" y2="331.3" stroke="#4a4" stroke-width="1.2" />
<circle cx="593.6" cy="251.8" r="2" stroke="#999" stroke-width="0.7" fill="none"/>
<circle cx="593.6" cy="327.4" r="2" stroke="#999" stroke-width="0.7" fill="none"/>
<line x1="593.6" y1="248.7" x2="593.6" y2="250" stroke="#4a4" stroke-width="1.2" />
<line x1="593.6" y1="329.3" x2="593.6" y2="331.3" stroke="#4a4" stroke-width="1.2" />
<circle cx="609" cy="251.8" r="2" stroke="#999" stroke-width="0.7" fill="none"/>
<circle cx="609" cy="327.4" r="2" stroke="#999" stroke-width="0.7" fill="none"/>
<line x1="609" y1="248.7" x2="609" y2="250" stroke="#4a4" stroke-width="1.2" />
<line x1="609" y1="329.3" x2="609" y2="331.3" stroke="#4a4" stroke-width="1.2" />
<rect x="460.2" y="275.2" width="2.1" height="12.8" stroke="#888" stroke-width="0.5" fill="#111" />
<rect x="651" y="275.2" width="2" height="12.8" stroke="#888" stroke-width="0.5" fill="#111" />
<rect x="460.2" y="290.8" width="2.1" height="13.4" stroke="#888" stroke-width="0.5" fill="#111" />
<rect x="651" y="290.8" width="2" height="13.4" stroke="#888" stroke-width="0.5" fill="#111" />
<circle cx="466.3" cy="282.2" r="2" stroke="#999" stroke-width="0.7" fill="none"/>
<circle cx="647.5" cy="282.2" r="2" stroke="#999" stroke-width="0.7" fill="none"/>
<line x1="462.5" y1="282.2" x2="464.2" y2="282.2" stroke="#4a4" stroke-width="1.2" />
<line x1="649.5" y1="282.2" x2="651" y2="282.2" stroke="#4a4" stroke-width="1.2" />
<circle cx="466.3" cy="297.6" r="2" stroke="#999" stroke-width="0.7" fill="none"/>
<circle cx="647.5" cy="297.6" r="2" stroke="#999" stroke-width="0.7" fill="none"/>
<line x1="462.5" y1="297.6" x2="464.2" y2="297.6" stroke="#4a4" stroke-width="1.2" />
<line x1="649.5" y1="297.6" x2="651" y2="297.6" stroke="#4a4" stroke-width="1.2" />
<defs><clipPath id="lc"><rect x="632" y="422" width="72" height="40"/></clipPath></defs>
<g ><path d="M689.2 420.2 C689.2 408.5 676 399 659 399 C640 399 624.6 408 624.6 420.5 C624.6 433 640 439.8 657 442.3 C674 444.8 688.7 452 688.7 464.5 C688.7 477.5 675 486.6 655 486.6 C637 486.6 624.1 477.5 624.1 463.9" stroke="#1c1c1c" stroke-width="24.4" fill="none"/><path d="M677 420.4H701.4M611.9 463.7H636.3" stroke="#1c1c1c" stroke-width="1.8" fill="none"/><path d="M689.2 420.2 C689.2 408.5 676 399 659 399 C640 399 624.6 408 624.6 420.5 C624.6 433 640 439.8 657 442.3 C674 444.8 688.7 452 688.7 464.5 C688.7 477.5 675 486.6 655 486.6 C637 486.6 624.1 477.5 624.1 463.9" stroke="#6bb4ee" stroke-width="21.4" fill="none"/></g>
<path d="M585.8 387.8 C639.86 387.8 672.3 408.24 672.3 442.3 C672.3 477.34 642.46 495.8 585.8 495.8 Z M608.2 409.4 V475.1 C632.39 475.1 652.0 460.42 652.0 442.3 C652.0 424.13 632.39 409.4 608.2 409.4 Z" fill="#f8cd62" fill-rule="evenodd" stroke="#1c1c1c" stroke-width="1.5" stroke-linejoin="miter"/>
<g clip-path="url(#lc)"><path d="M689.2 420.2 C689.2 408.5 676 399 659 399 C640 399 624.6 408 624.6 420.5 C624.6 433 640 439.8 657 442.3 C674 444.8 688.7 452 688.7 464.5 C688.7 477.5 675 486.6 655 486.6 C637 486.6 624.1 477.5 624.1 463.9" stroke="#1c1c1c" stroke-width="24.4" fill="none"/><path d="M677 420.4H701.4M611.9 463.7H636.3" stroke="#1c1c1c" stroke-width="1.8" fill="none"/><path d="M689.2 420.2 C689.2 408.5 676 399 659 399 C640 399 624.6 408 624.6 420.5 C624.6 433 640 439.8 657 442.3 C674 444.8 688.7 452 688.7 464.5 C688.7 477.5 675 486.6 655 486.6 C637 486.6 624.1 477.5 624.1 463.9" stroke="#6bb4ee" stroke-width="21.4" fill="none"/></g>
<rect x="239" y="31" width="136.5" height="111.4" stroke="#5c5c5c" stroke-width="1.4" fill="none" />
<rect x="296.6" y="38.2" width="22.2" height="4.2" stroke="#333" stroke-width="0.9" fill="none" />
<line x1="297" y1="39.5" x2="318.4" y2="39.5" stroke="#555" stroke-width="0.6" />
<line x1="294.7" y1="42.4" x2="320.5" y2="42.4" stroke="#222" stroke-width="1" />
<circle cx="300" cy="42.5" r="1.4" stroke="#111" stroke-width="0.3" fill="#111"/>
<circle cx="315.3" cy="42.5" r="1.4" stroke="#111" stroke-width="0.3" fill="#111"/>
<line x1="300" y1="42.6" x2="268" y2="98.9" stroke="#555" stroke-width="0.55" />
<line x1="315.3" y1="42.6" x2="347.6" y2="98.9" stroke="#555" stroke-width="0.55" />
<circle cx="254.5" cy="92" r="7.6" stroke="#e58cc4" stroke-width="0.6" fill="#f2bfdf"/>
<circle cx="254.5" cy="92" r="5" stroke="#f0b0d8" stroke-width="0.5" fill="#f0b4da"/>
<circle cx="254.5" cy="115.6" r="7.6" stroke="#e58cc4" stroke-width="0.6" fill="#f2bfdf"/>
<circle cx="254.5" cy="115.6" r="5" stroke="#f0b0d8" stroke-width="0.5" fill="#f0b4da"/>
<circle cx="361.3" cy="92" r="7.6" stroke="#e58cc4" stroke-width="0.6" fill="#f2bfdf"/>
<circle cx="361.3" cy="92" r="5" stroke="#f0b0d8" stroke-width="0.5" fill="#f0b4da"/>
<circle cx="361.3" cy="115.6" r="7.6" stroke="#e58cc4" stroke-width="0.6" fill="#f2bfdf"/>
<circle cx="361.3" cy="115.6" r="5" stroke="#f0b0d8" stroke-width="0.5" fill="#f0b4da"/>
<circle cx="286.6" cy="91.5" r="7.8" stroke="#6cc86c" stroke-width="0.7" fill="#c6e8c6"/>
<circle cx="286.6" cy="91.5" r="5.4" stroke="#9fd89f" stroke-width="0.5" fill="#cfeacf"/>
<circle cx="286.6" cy="91.5" r="3.2" stroke="#8a8" stroke-width="0.5" fill="#eef6ee"/>
<circle cx="321.2" cy="91.5" r="7.8" stroke="#6cc86c" stroke-width="0.7" fill="#c6e8c6"/>
<circle cx="321.2" cy="91.5" r="5.4" stroke="#9fd89f" stroke-width="0.5" fill="#cfeacf"/>
<circle cx="321.2" cy="91.5" r="3.2" stroke="#8a8" stroke-width="0.5" fill="#eef6ee"/>
<circle cx="294.4" cy="115.8" r="7.8" stroke="#6cc86c" stroke-width="0.7" fill="#c6e8c6"/>
<circle cx="294.4" cy="115.8" r="5.4" stroke="#9fd89f" stroke-width="0.5" fill="#cfeacf"/>
<circle cx="294.4" cy="115.8" r="3.2" stroke="#8a8" stroke-width="0.5" fill="#eef6ee"/>
<circle cx="329" cy="115.8" r="7.8" stroke="#6cc86c" stroke-width="0.7" fill="#c6e8c6"/>
<circle cx="329" cy="115.8" r="5.4" stroke="#9fd89f" stroke-width="0.5" fill="#cfeacf"/>
<circle cx="329" cy="115.8" r="3.2" stroke="#8a8" stroke-width="0.5" fill="#eef6ee"/>
<rect x="267.8" y="99" width="80.2" height="3.6" stroke="#6e6e6e" stroke-width="0.4" fill="#858585" />
<rect x="267.8" y="105" width="80.2" height="3.7" stroke="#6e6e6e" stroke-width="0.4" fill="#858585" />
<rect x="285.4" y="88.6" width="2.4" height="9.4" stroke="#333" stroke-width="0.5" fill="#555" />
<rect x="284.8" y="98.2" width="3.6" height="11.2" stroke="#222" stroke-width="0.7" fill="#e8e8e8" />
<rect x="284.8" y="99" width="3.6" height="3.6" stroke="none" stroke-width="0" fill="#aaa" />
<rect x="284.8" y="105" width="3.6" height="3.7" stroke="none" stroke-width="0" fill="#aaa" />
<line x1="285" y1="98" x2="288.2" y2="98" stroke="#f44" stroke-width="0.7" />
<line x1="285" y1="109.6" x2="288.2" y2="109.6" stroke="#f44" stroke-width="0.7" />
<rect x="320.2" y="88.6" width="2.4" height="9.4" stroke="#333" stroke-width="0.5" fill="#555" />
<rect x="319.6" y="98.2" width="3.6" height="11.2" stroke="#222" stroke-width="0.7" fill="#e8e8e8" />
<rect x="319.6" y="99" width="3.6" height="3.6" stroke="none" stroke-width="0" fill="#aaa" />
<rect x="319.6" y="105" width="3.6" height="3.7" stroke="none" stroke-width="0" fill="#aaa" />
<line x1="319.8" y1="98" x2="323" y2="98" stroke="#f44" stroke-width="0.7" />
<line x1="319.8" y1="109.6" x2="323" y2="109.6" stroke="#f44" stroke-width="0.7" />
<rect x="293.4" y="109.6" width="2.4" height="10" stroke="#333" stroke-width="0.5" fill="#555" />
<rect x="292.8" y="98.2" width="3.6" height="11.2" stroke="#222" stroke-width="0.7" fill="#e8e8e8" />
<rect x="292.8" y="99" width="3.6" height="3.6" stroke="none" stroke-width="0" fill="#aaa" />
<rect x="292.8" y="105" width="3.6" height="3.7" stroke="none" stroke-width="0" fill="#aaa" />
<line x1="293" y1="98" x2="296.2" y2="98" stroke="#f44" stroke-width="0.7" />
<line x1="293" y1="109.6" x2="296.2" y2="109.6" stroke="#f44" stroke-width="0.7" />
<rect x="327.8" y="109.6" width="2.4" height="10" stroke="#333" stroke-width="0.5" fill="#555" />
<rect x="327.2" y="98.2" width="3.6" height="11.2" stroke="#222" stroke-width="0.7" fill="#e8e8e8" />
<rect x="327.2" y="99" width="3.6" height="3.6" stroke="none" stroke-width="0" fill="#aaa" />
<rect x="327.2" y="105" width="3.6" height="3.7" stroke="none" stroke-width="0" fill="#aaa" />
<line x1="327.4" y1="98" x2="330.6" y2="98" stroke="#f44" stroke-width="0.7" />
<line x1="327.4" y1="109.6" x2="330.6" y2="109.6" stroke="#f44" stroke-width="0.7" />
<rect x="263.4" y="88.8" width="2.6" height="9.4" stroke="#e070bc" stroke-width="0.3" fill="#e88cc8" />
<rect x="263.4" y="109.8" width="2.6" height="8.8" stroke="#5c5" stroke-width="0.3" fill="#7d7" />
<rect x="349.4" y="88.8" width="2.6" height="9.4" stroke="#5c5" stroke-width="0.3" fill="#7d7" />
<rect x="349.4" y="109.8" width="2.6" height="8.8" stroke="#e070bc" stroke-width="0.3" fill="#e88cc8" />
<rect x="262.8" y="98.2" width="2.8" height="11.6" stroke="#5c5" stroke-width="0.8" fill="none" />
<rect x="349.8" y="98.2" width="2.8" height="11.6" stroke="#5c5" stroke-width="0.8" fill="none" />
<rect x="261.5" y="88.2" width="1.9" height="7.8" stroke="#111" stroke-width="0.2" fill="#111" />
<rect x="261.5" y="112" width="1.9" height="7.2" stroke="#111" stroke-width="0.2" fill="#111" />
<rect x="352" y="88.2" width="1.9" height="7.8" stroke="#111" stroke-width="0.2" fill="#111" />
<rect x="352" y="112" width="1.9" height="7.2" stroke="#111" stroke-width="0.2" fill="#111" />
<line x1="265.6" y1="100.9" x2="268.1" y2="100.9" stroke="#46d" stroke-width="1.8" />
<line x1="347.4" y1="100.9" x2="349.8" y2="100.9" stroke="#46d" stroke-width="1.8" />
<line x1="265.6" y1="107" x2="268.1" y2="107" stroke="#46d" stroke-width="1.8" />
<line x1="347.4" y1="107" x2="349.8" y2="107" stroke="#46d" stroke-width="1.8" />
<line x1="262.7" y1="98.2" x2="265.7" y2="98.2" stroke="#f44" stroke-width="0.9" />
<line x1="262.7" y1="109.8" x2="265.7" y2="109.8" stroke="#f44" stroke-width="0.9" />
<line x1="349.7" y1="98.2" x2="352.7" y2="98.2" stroke="#f44" stroke-width="0.9" />
<line x1="349.7" y1="109.8" x2="352.7" y2="109.8" stroke="#f44" stroke-width="0.9" />
<path d="M137.5 81L141.7 74.3 M140 81L144.2 74.3 M142.5 81L146.7 74.3 M145 81L149.2 74.3 M147.5 81L151.7 74.3 M150 81L154.2 74.3 M152.5 81L156.7 74.3 M155 81L159.2 74.3 M157.5 81L161.7 74.3 M160 81L164.2 74.3 M162.5 81L166.7 74.3 M165 81L169.2 74.3 M167.5 81L171.7 74.3 M170 81L174.2 74.3 M172.5 81L176.7 74.3 M175 81L179.2 74.3 M177.5 81L181.7 74.3 M180 81L184.2 74.3 M182.5 81L186.7 74.3 M185 81L189.2 74.3 M187.5 81L191.7 74.3 M190 81L194.2 74.3 M192.5 81L196.7 74.3 M195 81L199.2 74.3 M197.5 81L201.7 74.3" stroke="#7d7d7d" stroke-width="0.7" fill="none" />
<line x1="136" y1="81.1" x2="201.8" y2="81.1" stroke="#222" stroke-width="1.2" />
<rect x="163.5" y="75.6" width="2.6" height="10.5" stroke="#222" stroke-width="0.8" fill="#999" />
<rect x="163.5" y="75.6" width="2.6" height="6.4" stroke="#222" stroke-width="0.5" fill="#444" />
<line x1="164.8" y1="86.5" x2="164.8" y2="110" stroke="#999" stroke-width="0.5" />
<line x1="164.8" y1="110.5" x2="164.8" y2="117.6" stroke="#222" stroke-width="1.5" />
<line x1="163.5" y1="110.8" x2="166.1" y2="110.8" stroke="#222" stroke-width="1" />
<rect x="181.3" y="75.6" width="2.6" height="10.5" stroke="#222" stroke-width="0.8" fill="#999" />
<rect x="181.3" y="75.6" width="2.6" height="6.4" stroke="#222" stroke-width="0.5" fill="#444" />
<line x1="182.6" y1="86.5" x2="182.6" y2="110" stroke="#999" stroke-width="0.5" />
<line x1="182.6" y1="110.5" x2="182.6" y2="117.6" stroke="#222" stroke-width="1.5" />
<line x1="181.3" y1="110.8" x2="183.9" y2="110.8" stroke="#222" stroke-width="1" />
<rect x="148.2" y="93.6" width="48.6" height="7.9" stroke="#333" stroke-width="1.1" fill="none" />
<ellipse cx="164.6" cy="97.8" rx="5.3" ry="1.9" fill="#eee" stroke="#444" stroke-width="0.8"/>
<ellipse cx="180.7" cy="97.8" rx="5.3" ry="1.9" fill="#eee" stroke="#444" stroke-width="0.8"/>
<line x1="157.5" y1="101.4" x2="157.5" y2="152" stroke="#555" stroke-width="0.6" />
<line x1="190.8" y1="101.4" x2="190.8" y2="152" stroke="#555" stroke-width="0.6" />
<path d="M159 124.2C162 121.6 170 121.4 171.2 124C171.4 126 168 127.6 165 127.8" stroke="#999" stroke-width="0.8" fill="none" />
<path d="M161 124.6C164 123.2 168 123.2 169.2 124.6" stroke="#aaa" stroke-width="0.7" fill="none" />
<path d="M178.4 124.2C181.4 121.6 189.4 121.4 190.6 124C190.8 126 187.4 127.6 184.4 127.8" stroke="#999" stroke-width="0.8" fill="none" />
<path d="M180.4 124.6C183.4 123.2 187.4 123.2 188.6 124.6" stroke="#aaa" stroke-width="0.7" fill="none" />
<rect x="141.3" y="147.7" width="63.7" height="10.3" stroke="#222" stroke-width="1" fill="none" />
<line x1="147" y1="152.2" x2="157.5" y2="152.2" stroke="#999" stroke-width="0.5" />
<line x1="190.8" y1="152.2" x2="200.5" y2="152.2" stroke="#999" stroke-width="0.5" />
<rect x="147" y="158" width="3.6" height="3" stroke="#333" stroke-width="0.7" fill="none" />
<rect x="155.3" y="158" width="3.7" height="3" stroke="#333" stroke-width="0.7" fill="none" />
<rect x="186.4" y="158" width="4" height="3" stroke="#333" stroke-width="0.7" fill="none" />
<rect x="195.8" y="158" width="3.6" height="3" stroke="#333" stroke-width="0.7" fill="none" />
<rect x="146.8" y="154.8" width="3.6" height="3.2" stroke="#222" stroke-width="0.8" fill="#d77" />
<rect x="195.7" y="154.8" width="3.7" height="3.2" stroke="#222" stroke-width="0.8" fill="#d77" />
<line x1="148.6" y1="158" x2="148.6" y2="162" stroke="#222" stroke-width="1" />
<line x1="197.6" y1="158" x2="197.6" y2="162" stroke="#222" stroke-width="1" />
<line x1="129" y1="153.2" x2="139.6" y2="153.2" stroke="#444" stroke-width="3" stroke-dasharray="0.8 0.45"/>
<line x1="207" y1="153.2" x2="216.4" y2="153.2" stroke="#444" stroke-width="3" stroke-dasharray="0.8 0.45"/>
<circle cx="125.8" cy="153.1" r="2" stroke="#999" stroke-width="0.6" fill="none"/>
<circle cx="220" cy="153.4" r="1.8" stroke="#999" stroke-width="0.6" fill="none"/>
<path d="M141.3 149.5H105.6V158H141.3" stroke="#e95fb6" stroke-width="1.2" fill="none" />
<path d="M127.7 158V168.8H218.8V158" stroke="#e95fb6" stroke-width="1.2" fill="none" />
<line x1="205" y1="158" x2="218.8" y2="158" stroke="#333" stroke-width="1" />
<text transform="translate(104.3,158.2) rotate(-90)" font-family="Liberation Serif, serif" font-size="9.2" fill="#e24fae" textLength="8.6" lengthAdjust="spacingAndGlyphs">25</text>
<text x="169.3" y="168.3" font-family="Liberation Sans, sans-serif" font-size="4.6" fill="#d8409f" >180</text>
<text x="117.4" y="87" font-family="Liberation Serif, sans-serif" font-size="19" fill="#000" textLength="6.6" lengthAdjust="spacingAndGlyphs" stroke="#000" stroke-width="0.15" filter="url(#gs)">1</text>
<circle cx="118.9" cy="73" r="2.1" stroke="#666" stroke-width="0.5" fill="none"/>
<line x1="127.4" y1="82.4" x2="162.7" y2="85.5" stroke="#888" stroke-width="0.5" />
<text x="105.3" y="131.2" font-family="Liberation Serif, sans-serif" font-size="23" fill="#000" textLength="7" lengthAdjust="spacingAndGlyphs" stroke="#000" stroke-width="0.4" filter="url(#gs)">2</text>
<rect x="105.8" y="128.6" width="6.2" height="2.8" stroke="#000" stroke-width="0.3" fill="#000" />
<path d="M110.4 115C107 110.3 99 109.8 94.5 116C90 122 91.5 127 96 129C99 130.3 103 130.6 105.5 130.4" stroke="#777" stroke-width="0.5" fill="none" />
<line x1="114.2" y1="126" x2="163.6" y2="116.8" stroke="#888" stroke-width="0.5" />
<text x="97.2" y="188.3" font-family="Liberation Serif, sans-serif" font-size="18.5" fill="#000" textLength="8.6" lengthAdjust="spacingAndGlyphs" stroke="#000" stroke-width="0.3" filter="url(#gs)">4</text>
<line x1="105.6" y1="178.4" x2="138.8" y2="155.4" stroke="#777" stroke-width="0.5" />
<text x="190.8" y="183.6" font-family="Liberation Serif, sans-serif" font-size="19" fill="#111" textLength="5.4" lengthAdjust="spacingAndGlyphs" stroke="#111" stroke-width="0.35" filter="url(#gs)">3</text>
<path d="M191.5 171C188.5 170 187 174 190 177" stroke="#444" stroke-width="0.6" fill="none" />
<line x1="195.4" y1="177.5" x2="215.5" y2="183.3" stroke="#777" stroke-width="0.5" />
<g transform="translate(218,180.2) rotate(-35)"><rect x="-3.4" y="-6.2" width="6.8" height="12.4" rx="1" fill="#e4e4e4" stroke="#555" stroke-width="0.7"/><rect x="-2.4" y="0.5" width="4.8" height="4.6" fill="#555"/><path d="M-1.6 -6V-1M0 -6V-1M1.6 -6V-1" stroke="#777" stroke-width="0.6" fill="none"/></g>
<path d="M174 147.6C180 143 185 141.2 189.5 141C197 140.5 203 140.8 209 141.7C215 143 219.5 144.5 222 147C225.5 150 227.5 152 227.2 154.5C227 158 225 160 222 161.2C218 163 215 163.5 213 165C211.5 166.5 211.3 168 211.6 169C212 171 213 173 214.2 174.2" stroke="#8a8a8a" stroke-width="0.6" fill="none" />
<path d="M174 147.6C180 143 185 141.2 189.5 141C197 140.5 203 140.8 209 141.7C215 143 219.5 144.5 222 147C225.5 150 227.5 152 227.2 154.5C227 158 225 160 222 161.2C218 163 215 163.5 213 165C211.5 166.5 211.3 168 211.6 169C212 171 213 173 214.2 174.2" stroke="#a0a0a0" stroke-width="0.6" fill="none" transform="translate(-1.2,1.3)"/>
<path d="M174 147.6C180 143 185 141.2 189.5 141C197 140.5 203 140.8 209 141.7C215 143 219.5 144.5 222 147C225.5 150 227.5 152 227.2 154.5C227 158 225 160 222 161.2C218 163 215 163.5 213 165C211.5 166.5 211.3 168 211.6 169C212 171 213 173 214.2 174.2" stroke="#999" stroke-width="0.6" fill="none" transform="translate(-2.6,2.4)"/>
<path d="M196 147.6C203 144 212 145 217 149C220 151.5 221 155 219.5 158" stroke="#aaa" stroke-width="0.5" fill="none" />
<text x="72.8" y="227" font-family="Liberation Serif, sans-serif" font-size="10.5" fill="#000" textLength="25.2" lengthAdjust="spacingAndGlyphs" filter="url(#gs)">200cm</text>
<line x1="100" y1="223.3" x2="132.8" y2="215.3" stroke="#888" stroke-width="0.5" />
<path d="M225.2 219.5C223 210 222.5 198 231 191.5" stroke="#7c98e4" stroke-width="0.7" fill="none" />
<path d="M229.2 192 L231.4 191.8 L230.4 194" stroke=" #6f8fe0" stroke-width="0.6" fill="none" />
<path d="M226.5 198 C228 196 229.5 194 231.8 190.5" stroke="#9ab" stroke-width="0.4" fill="none" />
<path d="M225.3 219.5V244" stroke="#4f7fd8" stroke-width="0.9" fill="none" />
<path d="M225.3 244Q225.6 251.1 231.5 251.1M248 251.1Q255 251.1 255.5 244" stroke="#a9bcec" stroke-width="0.8" fill="none" />
<path d="M231.5 251.1H248" stroke="#4f7fd8" stroke-width="1" fill="none" />
<path d="M233.5 209.7H251.5Q255.5 209.7 255.5 213.5V244" stroke="#4f7fd8" stroke-width="0.9" fill="none" />
<rect x="231" y="227.2" width="5.8" height="12.4" stroke="#222" stroke-width="0.7" fill="#ddd" />
<line x1="231.8" y1="229.6" x2="236" y2="229.6" stroke="#333" stroke-width="1.1" stroke-dasharray="1.3 0.7"/>
<line x1="231.8" y1="232" x2="236" y2="232" stroke="#333" stroke-width="1.1" stroke-dasharray="1.3 0.7"/>
<line x1="231.8" y1="234.4" x2="236" y2="234.4" stroke="#333" stroke-width="1.1" stroke-dasharray="1.3 0.7"/>
<line x1="231.8" y1="236.8" x2="236" y2="236.8" stroke="#333" stroke-width="1.1" stroke-dasharray="1.3 0.7"/>
<rect x="237.8" y="227.2" width="5" height="12.4" stroke="#222" stroke-width="0.7" fill="#ddd" />
<line x1="238.6" y1="229.6" x2="242" y2="229.6" stroke="#333" stroke-width="1.1" stroke-dasharray="1.3 0.7"/>
<line x1="238.6" y1="232" x2="242" y2="232" stroke="#333" stroke-width="1.1" stroke-dasharray="1.3 0.7"/>
<line x1="238.6" y1="234.4" x2="242" y2="234.4" stroke="#333" stroke-width="1.1" stroke-dasharray="1.3 0.7"/>
<line x1="238.6" y1="236.8" x2="242" y2="236.8" stroke="#333" stroke-width="1.1" stroke-dasharray="1.3 0.7"/>
<rect x="244" y="227.2" width="4.6" height="12.4" stroke="#222" stroke-width="0.7" fill="#ddd" />
<line x1="244.8" y1="229.6" x2="247.8" y2="229.6" stroke="#333" stroke-width="1.1" stroke-dasharray="1.3 0.7"/>
<line x1="244.8" y1="232" x2="247.8" y2="232" stroke="#333" stroke-width="1.1" stroke-dasharray="1.3 0.7"/>
<line x1="244.8" y1="234.4" x2="247.8" y2="234.4" stroke="#333" stroke-width="1.1" stroke-dasharray="1.3 0.7"/>
<line x1="244.8" y1="236.8" x2="247.8" y2="236.8" stroke="#333" stroke-width="1.1" stroke-dasharray="1.3 0.7"/>
<line x1="233.8" y1="216" x2="233.8" y2="227" stroke="#444" stroke-width="0.6" />
<line x1="233.8" y1="239.6" x2="233.8" y2="245" stroke="#777" stroke-width="0.5" />
<line x1="240.3" y1="216" x2="240.3" y2="227" stroke="#444" stroke-width="0.6" />
<line x1="240.3" y1="239.6" x2="240.3" y2="245" stroke="#777" stroke-width="0.5" />
<line x1="246.3" y1="216" x2="246.3" y2="227" stroke="#444" stroke-width="0.6" />
<line x1="246.3" y1="239.6" x2="246.3" y2="245" stroke="#777" stroke-width="0.5" />
<line x1="240.3" y1="209.5" x2="240.3" y2="227" stroke="#111" stroke-width="1" />
<path d="M239 224L240.3 227L241.6 224Z" stroke="#111" stroke-width="0.3" fill="#111" />
<ellipse cx="233" cy="217.5" rx="1" ry="2.3" fill="#fff" stroke="#555" stroke-width="0.5"/>
<ellipse cx="236.6" cy="217.5" rx="1" ry="2.3" fill="#fff" stroke="#555" stroke-width="0.5"/>
<ellipse cx="243.6" cy="217.5" rx="1" ry="2.3" fill="#fff" stroke="#555" stroke-width="0.5"/>
<ellipse cx="247.2" cy="217.5" rx="1" ry="2.3" fill="#fff" stroke="#555" stroke-width="0.5"/>
<ellipse cx="233.8" cy="243.5" rx="0.9" ry="1.8" fill="#fff" stroke="#777" stroke-width="0.4"/>
<ellipse cx="246.3" cy="243.5" rx="0.9" ry="1.8" fill="#fff" stroke="#777" stroke-width="0.4"/>
<line x1="233.6" y1="207.4" x2="249.6" y2="207.4" stroke="#111" stroke-width="1.4" stroke-dasharray="1.1 0.5"/>
<line x1="214" y1="220.5" x2="230.5" y2="220.5" stroke="#111" stroke-width="1.4" stroke-dasharray="1.1 0.5"/>
<line x1="214" y1="242.4" x2="230.5" y2="242.4" stroke="#111" stroke-width="1.4" stroke-dasharray="1.1 0.5"/>
<line x1="252.2" y1="220.5" x2="259.2" y2="220.5" stroke="#111" stroke-width="1.4" stroke-dasharray="1.1 0.5"/>
<line x1="252.2" y1="242.5" x2="259.2" y2="242.5" stroke="#111" stroke-width="1.4" stroke-dasharray="1.1 0.5"/>
<path d="M240.3 246V250M238.8 248.3H241.8" stroke="#111" stroke-width="0.8" fill="none" />
</svg>
</body></html>
